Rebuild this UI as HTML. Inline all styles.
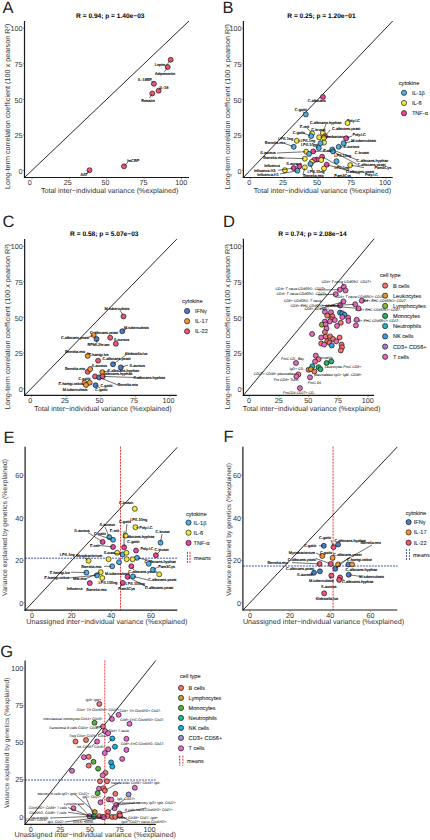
<!DOCTYPE html><html><head><meta charset="utf-8"><style>html,body{margin:0;padding:0;background:#fff;}svg{display:block;}text{font-family:'Liberation Sans', sans-serif;text-rendering:geometricPrecision;}</style></head><body>
<svg width="430" height="840" viewBox="0 0 430 840">
<rect x="0" y="0" width="430" height="840" fill="#fff"/>
<line x1="120.5" y1="446.7" x2="120.5" y2="610.2" stroke="#EE2B2B" stroke-width="0.95" stroke-dasharray="2,1"/>
<line x1="25.1" y1="558.2" x2="177.3" y2="558.2" stroke="#3B4CA8" stroke-width="0.95" stroke-dasharray="2,1"/>
<line x1="333.1" y1="446.7" x2="333.1" y2="610" stroke="#EE2B2B" stroke-width="0.95" stroke-dasharray="2,1"/>
<line x1="242.9" y1="566" x2="397.6" y2="566" stroke="#3B4CA8" stroke-width="0.95" stroke-dasharray="2,1"/>
<line x1="104.8" y1="660.5" x2="104.8" y2="824.4" stroke="#EE2B2B" stroke-width="0.95" stroke-dasharray="2,1"/>
<line x1="25.1" y1="780" x2="155.8" y2="780" stroke="#3B4CA8" stroke-width="0.95" stroke-dasharray="2,1"/>
<line x1="24.5" y1="21" x2="24.5" y2="178.1" stroke="#1a1a1a" stroke-width="1.2"/>
<line x1="23.9" y1="177.5" x2="189" y2="177.5" stroke="#1a1a1a" stroke-width="1.2"/>
<line x1="24.5" y1="177.5" x2="189" y2="21" stroke="#111" stroke-width="0.9"/>
<line x1="32" y1="178" x2="32" y2="179.3" stroke="#555" stroke-width="0.6"/>
<text x="29.8" y="185" font-size="7.2" text-anchor="middle" font-weight="normal" fill="#333333">0</text>
<line x1="69.38" y1="178" x2="69.38" y2="179.3" stroke="#555" stroke-width="0.6"/>
<text x="67.67" y="185" font-size="7.2" text-anchor="middle" font-weight="normal" fill="#333333">25</text>
<line x1="106.75" y1="178" x2="106.75" y2="179.3" stroke="#555" stroke-width="0.6"/>
<text x="105.55" y="185" font-size="7.2" text-anchor="middle" font-weight="normal" fill="#333333">50</text>
<line x1="144.12" y1="178" x2="144.12" y2="179.3" stroke="#555" stroke-width="0.6"/>
<text x="143.43" y="185" font-size="7.2" text-anchor="middle" font-weight="normal" fill="#333333">75</text>
<line x1="181.5" y1="178" x2="181.5" y2="179.3" stroke="#555" stroke-width="0.6"/>
<text x="181.3" y="185" font-size="7.2" text-anchor="middle" font-weight="normal" fill="#333333">100</text>
<line x1="22.7" y1="170.4" x2="24" y2="170.4" stroke="#555" stroke-width="0.6"/>
<text x="22.6" y="174.1" font-size="7.2" text-anchor="end" font-weight="normal" fill="#333333">0</text>
<line x1="22.7" y1="134.85" x2="24" y2="134.85" stroke="#555" stroke-width="0.6"/>
<text x="22.6" y="138.3" font-size="7.2" text-anchor="end" font-weight="normal" fill="#333333">25</text>
<line x1="22.7" y1="99.3" x2="24" y2="99.3" stroke="#555" stroke-width="0.6"/>
<text x="22.6" y="102.5" font-size="7.2" text-anchor="end" font-weight="normal" fill="#333333">50</text>
<line x1="22.7" y1="63.75" x2="24" y2="63.75" stroke="#555" stroke-width="0.6"/>
<text x="22.6" y="66.7" font-size="7.2" text-anchor="end" font-weight="normal" fill="#333333">75</text>
<line x1="22.7" y1="28.2" x2="24" y2="28.2" stroke="#555" stroke-width="0.6"/>
<text x="22.6" y="30.9" font-size="7.2" text-anchor="end" font-weight="normal" fill="#333333">100</text>
<line x1="243.4" y1="21" x2="243.4" y2="178.1" stroke="#1a1a1a" stroke-width="1.2"/>
<line x1="242.8" y1="177.5" x2="392.7" y2="177.5" stroke="#1a1a1a" stroke-width="1.2"/>
<line x1="243.4" y1="177.5" x2="392.7" y2="21" stroke="#111" stroke-width="0.9"/>
<line x1="250.2" y1="178" x2="250.2" y2="179.3" stroke="#555" stroke-width="0.6"/>
<text x="249.2" y="185" font-size="7.2" text-anchor="middle" font-weight="normal" fill="#333333">0</text>
<line x1="284.12" y1="178" x2="284.12" y2="179.3" stroke="#555" stroke-width="0.6"/>
<text x="283.12" y="185" font-size="7.2" text-anchor="middle" font-weight="normal" fill="#333333">25</text>
<line x1="318.05" y1="178" x2="318.05" y2="179.3" stroke="#555" stroke-width="0.6"/>
<text x="317.05" y="185" font-size="7.2" text-anchor="middle" font-weight="normal" fill="#333333">50</text>
<line x1="351.98" y1="178" x2="351.98" y2="179.3" stroke="#555" stroke-width="0.6"/>
<text x="350.98" y="185" font-size="7.2" text-anchor="middle" font-weight="normal" fill="#333333">75</text>
<line x1="385.9" y1="178" x2="385.9" y2="179.3" stroke="#555" stroke-width="0.6"/>
<text x="384.9" y="185" font-size="7.2" text-anchor="middle" font-weight="normal" fill="#333333">100</text>
<line x1="241.6" y1="170.4" x2="242.9" y2="170.4" stroke="#555" stroke-width="0.6"/>
<text x="241.5" y="174.1" font-size="7.2" text-anchor="end" font-weight="normal" fill="#333333">0</text>
<line x1="241.6" y1="134.85" x2="242.9" y2="134.85" stroke="#555" stroke-width="0.6"/>
<text x="241.5" y="138.3" font-size="7.2" text-anchor="end" font-weight="normal" fill="#333333">25</text>
<line x1="241.6" y1="99.3" x2="242.9" y2="99.3" stroke="#555" stroke-width="0.6"/>
<text x="241.5" y="102.5" font-size="7.2" text-anchor="end" font-weight="normal" fill="#333333">50</text>
<line x1="241.6" y1="63.75" x2="242.9" y2="63.75" stroke="#555" stroke-width="0.6"/>
<text x="241.5" y="66.7" font-size="7.2" text-anchor="end" font-weight="normal" fill="#333333">75</text>
<line x1="241.6" y1="28.2" x2="242.9" y2="28.2" stroke="#555" stroke-width="0.6"/>
<text x="241.5" y="30.9" font-size="7.2" text-anchor="end" font-weight="normal" fill="#333333">100</text>
<line x1="24.65" y1="239.1" x2="24.65" y2="395.9" stroke="#1a1a1a" stroke-width="1.2"/>
<line x1="24.05" y1="395.3" x2="176.8" y2="395.3" stroke="#1a1a1a" stroke-width="1.2"/>
<line x1="24.65" y1="395.3" x2="176.8" y2="239.1" stroke="#111" stroke-width="0.9"/>
<line x1="31.6" y1="395.8" x2="31.6" y2="397.1" stroke="#555" stroke-width="0.6"/>
<text x="30.3" y="402.8" font-size="7.2" text-anchor="middle" font-weight="normal" fill="#333333">0</text>
<line x1="66.18" y1="395.8" x2="66.18" y2="397.1" stroke="#555" stroke-width="0.6"/>
<text x="64.88" y="402.8" font-size="7.2" text-anchor="middle" font-weight="normal" fill="#333333">25</text>
<line x1="100.75" y1="395.8" x2="100.75" y2="397.1" stroke="#555" stroke-width="0.6"/>
<text x="99.45" y="402.8" font-size="7.2" text-anchor="middle" font-weight="normal" fill="#333333">50</text>
<line x1="135.32" y1="395.8" x2="135.32" y2="397.1" stroke="#555" stroke-width="0.6"/>
<text x="134.02" y="402.8" font-size="7.2" text-anchor="middle" font-weight="normal" fill="#333333">75</text>
<line x1="169.9" y1="395.8" x2="169.9" y2="397.1" stroke="#555" stroke-width="0.6"/>
<text x="168.6" y="402.8" font-size="7.2" text-anchor="middle" font-weight="normal" fill="#333333">100</text>
<line x1="22.85" y1="388.5" x2="24.15" y2="388.5" stroke="#555" stroke-width="0.6"/>
<text x="22.75" y="392.2" font-size="7.2" text-anchor="end" font-weight="normal" fill="#333333">0</text>
<line x1="22.85" y1="352.95" x2="24.15" y2="352.95" stroke="#555" stroke-width="0.6"/>
<text x="22.75" y="356.4" font-size="7.2" text-anchor="end" font-weight="normal" fill="#333333">25</text>
<line x1="22.85" y1="317.4" x2="24.15" y2="317.4" stroke="#555" stroke-width="0.6"/>
<text x="22.75" y="320.6" font-size="7.2" text-anchor="end" font-weight="normal" fill="#333333">50</text>
<line x1="22.85" y1="281.85" x2="24.15" y2="281.85" stroke="#555" stroke-width="0.6"/>
<text x="22.75" y="284.8" font-size="7.2" text-anchor="end" font-weight="normal" fill="#333333">75</text>
<line x1="22.85" y1="246.3" x2="24.15" y2="246.3" stroke="#555" stroke-width="0.6"/>
<text x="22.75" y="249" font-size="7.2" text-anchor="end" font-weight="normal" fill="#333333">100</text>
<line x1="243.4" y1="238.8" x2="243.4" y2="395.9" stroke="#1a1a1a" stroke-width="1.2"/>
<line x1="242.8" y1="395.3" x2="374.1" y2="395.3" stroke="#1a1a1a" stroke-width="1.2"/>
<line x1="243.4" y1="395.3" x2="374.1" y2="238.8" stroke="#111" stroke-width="0.9"/>
<line x1="249.3" y1="395.8" x2="249.3" y2="397.1" stroke="#555" stroke-width="0.6"/>
<text x="249" y="402.8" font-size="7.2" text-anchor="middle" font-weight="normal" fill="#333333">0</text>
<line x1="278.98" y1="395.8" x2="278.98" y2="397.1" stroke="#555" stroke-width="0.6"/>
<text x="278.68" y="402.8" font-size="7.2" text-anchor="middle" font-weight="normal" fill="#333333">25</text>
<line x1="308.65" y1="395.8" x2="308.65" y2="397.1" stroke="#555" stroke-width="0.6"/>
<text x="308.35" y="402.8" font-size="7.2" text-anchor="middle" font-weight="normal" fill="#333333">50</text>
<line x1="338.33" y1="395.8" x2="338.33" y2="397.1" stroke="#555" stroke-width="0.6"/>
<text x="338.03" y="402.8" font-size="7.2" text-anchor="middle" font-weight="normal" fill="#333333">75</text>
<line x1="368" y1="395.8" x2="368" y2="397.1" stroke="#555" stroke-width="0.6"/>
<text x="367.7" y="402.8" font-size="7.2" text-anchor="middle" font-weight="normal" fill="#333333">100</text>
<line x1="241.6" y1="388.5" x2="242.9" y2="388.5" stroke="#555" stroke-width="0.6"/>
<text x="241.5" y="392.2" font-size="7.2" text-anchor="end" font-weight="normal" fill="#333333">0</text>
<line x1="241.6" y1="352.95" x2="242.9" y2="352.95" stroke="#555" stroke-width="0.6"/>
<text x="241.5" y="356.4" font-size="7.2" text-anchor="end" font-weight="normal" fill="#333333">25</text>
<line x1="241.6" y1="317.4" x2="242.9" y2="317.4" stroke="#555" stroke-width="0.6"/>
<text x="241.5" y="320.6" font-size="7.2" text-anchor="end" font-weight="normal" fill="#333333">50</text>
<line x1="241.6" y1="281.85" x2="242.9" y2="281.85" stroke="#555" stroke-width="0.6"/>
<text x="241.5" y="284.8" font-size="7.2" text-anchor="end" font-weight="normal" fill="#333333">75</text>
<line x1="241.6" y1="246.3" x2="242.9" y2="246.3" stroke="#555" stroke-width="0.6"/>
<text x="241.5" y="249" font-size="7.2" text-anchor="end" font-weight="normal" fill="#333333">100</text>
<line x1="25.1" y1="446.7" x2="25.1" y2="610.8" stroke="#1a1a1a" stroke-width="1.2"/>
<line x1="24.5" y1="610.2" x2="177.3" y2="610.2" stroke="#1a1a1a" stroke-width="1.2"/>
<line x1="25.3" y1="610.2" x2="177.3" y2="447.3" stroke="#111" stroke-width="0.9"/>
<line x1="32" y1="610.7" x2="32" y2="612" stroke="#555" stroke-width="0.6"/>
<text x="32" y="617.7" font-size="7.2" text-anchor="middle" font-weight="normal" fill="#333333">0</text>
<line x1="71.63" y1="610.7" x2="71.63" y2="612" stroke="#555" stroke-width="0.6"/>
<text x="71.63" y="617.7" font-size="7.2" text-anchor="middle" font-weight="normal" fill="#333333">20</text>
<line x1="111.27" y1="610.7" x2="111.27" y2="612" stroke="#555" stroke-width="0.6"/>
<text x="111.27" y="617.7" font-size="7.2" text-anchor="middle" font-weight="normal" fill="#333333">40</text>
<line x1="150.9" y1="610.7" x2="150.9" y2="612" stroke="#555" stroke-width="0.6"/>
<text x="150.9" y="617.7" font-size="7.2" text-anchor="middle" font-weight="normal" fill="#333333">60</text>
<line x1="23.3" y1="602.9" x2="24.6" y2="602.9" stroke="#555" stroke-width="0.6"/>
<text x="23.2" y="605.8" font-size="7.2" text-anchor="end" font-weight="normal" fill="#333333">0</text>
<line x1="23.3" y1="560.33" x2="24.6" y2="560.33" stroke="#555" stroke-width="0.6"/>
<text x="23.2" y="563.23" font-size="7.2" text-anchor="end" font-weight="normal" fill="#333333">20</text>
<line x1="23.3" y1="517.77" x2="24.6" y2="517.77" stroke="#555" stroke-width="0.6"/>
<text x="23.2" y="520.67" font-size="7.2" text-anchor="end" font-weight="normal" fill="#333333">40</text>
<line x1="23.3" y1="475.2" x2="24.6" y2="475.2" stroke="#555" stroke-width="0.6"/>
<text x="23.2" y="478.1" font-size="7.2" text-anchor="end" font-weight="normal" fill="#333333">60</text>
<line x1="242.9" y1="446.7" x2="242.9" y2="610.6" stroke="#1a1a1a" stroke-width="1.2"/>
<line x1="242.3" y1="610" x2="397.3" y2="610" stroke="#1a1a1a" stroke-width="1.2"/>
<line x1="243.1" y1="610" x2="397.3" y2="446.9" stroke="#111" stroke-width="0.9"/>
<line x1="249.9" y1="610.5" x2="249.9" y2="611.8" stroke="#555" stroke-width="0.6"/>
<text x="249.9" y="617.5" font-size="7.2" text-anchor="middle" font-weight="normal" fill="#333333">0</text>
<line x1="290.1" y1="610.5" x2="290.1" y2="611.8" stroke="#555" stroke-width="0.6"/>
<text x="290.1" y="617.5" font-size="7.2" text-anchor="middle" font-weight="normal" fill="#333333">20</text>
<line x1="330.3" y1="610.5" x2="330.3" y2="611.8" stroke="#555" stroke-width="0.6"/>
<text x="330.3" y="617.5" font-size="7.2" text-anchor="middle" font-weight="normal" fill="#333333">40</text>
<line x1="370.5" y1="610.5" x2="370.5" y2="611.8" stroke="#555" stroke-width="0.6"/>
<text x="370.5" y="617.5" font-size="7.2" text-anchor="middle" font-weight="normal" fill="#333333">60</text>
<line x1="241.1" y1="602.9" x2="242.4" y2="602.9" stroke="#555" stroke-width="0.6"/>
<text x="241.1" y="605.8" font-size="7.2" text-anchor="end" font-weight="normal" fill="#333333">0</text>
<line x1="241.1" y1="560.33" x2="242.4" y2="560.33" stroke="#555" stroke-width="0.6"/>
<text x="241.1" y="563.23" font-size="7.2" text-anchor="end" font-weight="normal" fill="#333333">20</text>
<line x1="241.1" y1="517.77" x2="242.4" y2="517.77" stroke="#555" stroke-width="0.6"/>
<text x="241.1" y="520.67" font-size="7.2" text-anchor="end" font-weight="normal" fill="#333333">40</text>
<line x1="241.1" y1="475.2" x2="242.4" y2="475.2" stroke="#555" stroke-width="0.6"/>
<text x="241.1" y="478.1" font-size="7.2" text-anchor="end" font-weight="normal" fill="#333333">60</text>
<line x1="25.1" y1="660.5" x2="25.1" y2="825" stroke="#1a1a1a" stroke-width="1.2"/>
<line x1="24.5" y1="824.4" x2="155.8" y2="824.4" stroke="#1a1a1a" stroke-width="1.2"/>
<line x1="25.1" y1="824.4" x2="155.8" y2="660.5" stroke="#111" stroke-width="0.9"/>
<line x1="31.05" y1="824.9" x2="31.05" y2="826.2" stroke="#555" stroke-width="0.6"/>
<text x="30.65" y="831.9" font-size="7.2" text-anchor="middle" font-weight="normal" fill="#333333">0</text>
<line x1="60.76" y1="824.9" x2="60.76" y2="826.2" stroke="#555" stroke-width="0.6"/>
<text x="60.36" y="831.9" font-size="7.2" text-anchor="middle" font-weight="normal" fill="#333333">25</text>
<line x1="90.47" y1="824.9" x2="90.47" y2="826.2" stroke="#555" stroke-width="0.6"/>
<text x="90.07" y="831.9" font-size="7.2" text-anchor="middle" font-weight="normal" fill="#333333">50</text>
<line x1="120.19" y1="824.9" x2="120.19" y2="826.2" stroke="#555" stroke-width="0.6"/>
<text x="119.79" y="831.9" font-size="7.2" text-anchor="middle" font-weight="normal" fill="#333333">75</text>
<line x1="149.9" y1="824.9" x2="149.9" y2="826.2" stroke="#555" stroke-width="0.6"/>
<text x="149.5" y="831.9" font-size="7.2" text-anchor="middle" font-weight="normal" fill="#333333">100</text>
<line x1="23.3" y1="817" x2="24.6" y2="817" stroke="#555" stroke-width="0.6"/>
<text x="23.2" y="819.7" font-size="7.2" text-anchor="end" font-weight="normal" fill="#333333">0</text>
<line x1="23.3" y1="779.75" x2="24.6" y2="779.75" stroke="#555" stroke-width="0.6"/>
<text x="23.2" y="782.45" font-size="7.2" text-anchor="end" font-weight="normal" fill="#333333">25</text>
<line x1="23.3" y1="742.5" x2="24.6" y2="742.5" stroke="#555" stroke-width="0.6"/>
<text x="23.2" y="745.2" font-size="7.2" text-anchor="end" font-weight="normal" fill="#333333">50</text>
<line x1="23.3" y1="705.25" x2="24.6" y2="705.25" stroke="#555" stroke-width="0.6"/>
<text x="23.2" y="707.95" font-size="7.2" text-anchor="end" font-weight="normal" fill="#333333">75</text>
<line x1="23.3" y1="668" x2="24.6" y2="668" stroke="#555" stroke-width="0.6"/>
<text x="23.2" y="670.7" font-size="7.2" text-anchor="end" font-weight="normal" fill="#333333">100</text>
<text x="2.6" y="12.8" font-size="16.5" text-anchor="start" font-weight="normal" fill="#222">A</text>
<text x="222.6" y="12.9" font-size="16.5" text-anchor="start" font-weight="normal" fill="#222">B</text>
<text x="2.6" y="226.6" font-size="16.5" text-anchor="start" font-weight="normal" fill="#222">C</text>
<text x="223" y="226.8" font-size="16.5" text-anchor="start" font-weight="normal" fill="#222">D</text>
<text x="3.6" y="442.8" font-size="16.5" text-anchor="start" font-weight="normal" fill="#222">E</text>
<text x="223.4" y="442.4" font-size="16.5" text-anchor="start" font-weight="normal" fill="#222">F</text>
<text x="0.3" y="656.6" font-size="16.5" text-anchor="start" font-weight="normal" fill="#222">G</text>
<text x="110.3" y="18.2" font-size="6.6" text-anchor="middle" font-weight="bold" fill="#000">R = 0.94; p = 1.40e−03</text>
<text x="321.5" y="18.2" font-size="6.6" text-anchor="middle" font-weight="bold" fill="#000">R = 0.25; p = 1.20e−01</text>
<text x="104.3" y="236.2" font-size="6.6" text-anchor="middle" font-weight="bold" fill="#000">R = 0.58; p = 5.07e−03</text>
<text x="312.5" y="236.2" font-size="6.6" text-anchor="middle" font-weight="bold" fill="#000">R = 0.74; p = 2.08e−14</text>
<text x="109.65" y="193.4" font-size="7.15" text-anchor="middle" font-weight="normal" fill="#333">Total inter−individual variance (%explained)</text>
<text x="322.4" y="193.4" font-size="7.15" text-anchor="middle" font-weight="normal" fill="#333">Total inter−individual variance (%explained)</text>
<text x="102.9" y="410.6" font-size="7.15" text-anchor="middle" font-weight="normal" fill="#333">Total inter−individual variance (%explained)</text>
<text x="311.6" y="410.6" font-size="7.15" text-anchor="middle" font-weight="normal" fill="#333">Total inter−individual variance (%explained)</text>
<text x="10.2" y="106.3" font-size="7.22" text-anchor="middle" font-weight="normal" fill="#333" transform="rotate(-90 10.2 106.3)">Long-term correlation coefficient (100 x pearson R²)</text>
<text x="230.3" y="106.6" font-size="7.22" text-anchor="middle" font-weight="normal" fill="#333" transform="rotate(-90 230.3 106.6)">Long-term correlation coefficient (100 x pearson R²)</text>
<text x="10.2" y="326.6" font-size="7.22" text-anchor="middle" font-weight="normal" fill="#333" transform="rotate(-90 10.2 326.6)">Long-term correlation coefficient (100 x pearson R²)</text>
<text x="230.3" y="326.6" font-size="7.22" text-anchor="middle" font-weight="normal" fill="#333" transform="rotate(-90 230.3 326.6)">Long-term correlation coefficient (100 x pearson R²)</text>
<text x="106.9" y="623.8" font-size="7.2" text-anchor="middle" font-weight="normal" fill="#333">Unassigned inter−individual variance (%explained)</text>
<text x="323.5" y="623.8" font-size="7.2" text-anchor="middle" font-weight="normal" fill="#333">Unassigned inter−individual variance (%explained)</text>
<text x="7.1" y="527.4" font-size="6.9" text-anchor="middle" font-weight="normal" fill="#333" transform="rotate(-90 7.1 527.4)">Variance explained by genetics (%explained)</text>
<text x="231.3" y="529.5" font-size="6.7" text-anchor="middle" font-weight="normal" fill="#333" transform="rotate(-90 231.3 529.5)">Variance explained by genetics (%explained)</text>
<text x="95.2" y="837.2" font-size="7.2" text-anchor="middle" font-weight="normal" fill="#333">Unassigned inter−individual variance (%explained)</text>
<text x="8.8" y="742.8" font-size="6.55" text-anchor="middle" font-weight="normal" fill="#333" transform="rotate(-90 8.8 742.8)">Variance explained by genetics (%explained)</text>
<text x="160" y="66.3" font-size="3.85" text-anchor="middle" font-weight="normal" fill="#000" stroke="#000" stroke-width="0.15">Leptin</text>
<text x="165" y="75.2" font-size="3.85" text-anchor="middle" font-weight="normal" fill="#000" stroke="#000" stroke-width="0.15">Adiponectin</text>
<text x="145" y="80.7" font-size="3.85" text-anchor="middle" font-weight="normal" fill="#000" stroke="#000" stroke-width="0.15">IL-18BP</text>
<text x="164" y="88.7" font-size="3.85" text-anchor="middle" font-weight="normal" fill="#000" stroke="#000" stroke-width="0.15">IL-18</text>
<text x="148" y="101.8" font-size="3.85" text-anchor="middle" font-weight="normal" fill="#000" stroke="#000" stroke-width="0.15">Resistin</text>
<text x="84" y="175.7" font-size="3.85" text-anchor="middle" font-weight="normal" fill="#000" stroke="#000" stroke-width="0.15">AAT</text>
<text x="133.3" y="161.8" font-size="3.85" text-anchor="middle" font-weight="normal" fill="#000" stroke="#000" stroke-width="0.15">hsCRP</text>
<circle cx="170.7" cy="59.8" r="2.5" fill="#F0566E" stroke="#000" stroke-width="0.6"/>
<circle cx="167.7" cy="67" r="2.5" fill="#F0566E" stroke="#000" stroke-width="0.6"/>
<circle cx="153.9" cy="83.75" r="2.5" fill="#F0566E" stroke="#000" stroke-width="0.6"/>
<circle cx="158.6" cy="90.7" r="2.5" fill="#F0566E" stroke="#000" stroke-width="0.6"/>
<circle cx="152.3" cy="93.5" r="2.5" fill="#F0566E" stroke="#000" stroke-width="0.6"/>
<circle cx="89.5" cy="170.2" r="2.5" fill="#F0566E" stroke="#000" stroke-width="0.6"/>
<circle cx="124" cy="166.3" r="2.5" fill="#F0566E" stroke="#000" stroke-width="0.6"/>
<line x1="170.09" y1="60.59" x2="165.5" y2="66.5" stroke="#111" stroke-width="0.6"/>
<line x1="167.15" y1="67.83" x2="164.5" y2="71.8" stroke="#111" stroke-width="0.6"/>
<line x1="153.23" y1="83" x2="151" y2="80.5" stroke="#111" stroke-width="0.6"/>
<line x1="159.25" y1="89.94" x2="160.5" y2="88.5" stroke="#111" stroke-width="0.6"/>
<line x1="151.77" y1="94.35" x2="149.5" y2="98" stroke="#111" stroke-width="0.6"/>
<line x1="88.9" y1="171" x2="87" y2="173.5" stroke="#111" stroke-width="0.6"/>
<line x1="124.68" y1="165.57" x2="128" y2="162" stroke="#111" stroke-width="0.6"/>
<text x="316.7" y="101.5" font-size="3.85" text-anchor="middle" font-weight="normal" fill="#000" stroke="#000" stroke-width="0.15">C.albicans</text>
<text x="300.8" y="111.3" font-size="3.85" text-anchor="middle" font-weight="normal" fill="#000" stroke="#000" stroke-width="0.15">C.gattii</text>
<text x="353.5" y="122" font-size="3.85" text-anchor="middle" font-weight="normal" fill="#000" stroke="#000" stroke-width="0.15">Poly.I.C</text>
<text x="325.7" y="123.6" font-size="3.85" text-anchor="middle" font-weight="normal" fill="#000" stroke="#000" stroke-width="0.15">C.albicans.hyphae</text>
<text x="304.5" y="128" font-size="3.85" text-anchor="middle" font-weight="normal" fill="#000" stroke="#000" stroke-width="0.15">E.coli</text>
<text x="298.8" y="133.9" font-size="3.85" text-anchor="middle" font-weight="normal" fill="#000" stroke="#000" stroke-width="0.15">C.gattii</text>
<text x="318.4" y="131" font-size="3.85" text-anchor="middle" font-weight="normal" fill="#000" stroke="#000" stroke-width="0.15">C.krusei</text>
<text x="346.2" y="130.1" font-size="3.85" text-anchor="middle" font-weight="normal" fill="#000" stroke="#000" stroke-width="0.15">C.albicans.yeast</text>
<text x="335.5" y="137.5" font-size="3.85" text-anchor="middle" font-weight="normal" fill="#000" stroke="#000" stroke-width="0.15">Mycobacterium</text>
<text x="359.2" y="136.2" font-size="3.85" text-anchor="middle" font-weight="normal" fill="#000" stroke="#000" stroke-width="0.15">Poly.I.C</text>
<text x="363.6" y="141.9" font-size="3.85" text-anchor="middle" font-weight="normal" fill="#000" stroke="#000" stroke-width="0.15">M.tuberculosis</text>
<text x="285.7" y="139.9" font-size="3.85" text-anchor="middle" font-weight="normal" fill="#000" stroke="#000" stroke-width="0.15">LPS.1ng</text>
<text x="307.8" y="142" font-size="3.85" text-anchor="middle" font-weight="normal" fill="#000" stroke="#000" stroke-width="0.15">LPS.1ng</text>
<text x="309.4" y="146.4" font-size="3.85" text-anchor="middle" font-weight="normal" fill="#000" stroke="#000" stroke-width="0.15">LPS.10ng</text>
<text x="275" y="144.3" font-size="3.85" text-anchor="middle" font-weight="normal" fill="#000" stroke="#000" stroke-width="0.15">Borrelia.mix</text>
<text x="351.4" y="148.2" font-size="3.85" text-anchor="middle" font-weight="normal" fill="#000" stroke="#000" stroke-width="0.15">S.aureus</text>
<text x="361.9" y="153.8" font-size="3.85" text-anchor="middle" font-weight="normal" fill="#000" stroke="#000" stroke-width="0.15">C.krusei</text>
<text x="328" y="151.8" font-size="3.85" text-anchor="middle" font-weight="normal" fill="#000" stroke="#000" stroke-width="0.15">E.coli</text>
<text x="342.7" y="157.3" font-size="3.85" text-anchor="middle" font-weight="normal" fill="#000" stroke="#000" stroke-width="0.15">LPS.10ng</text>
<text x="268" y="153.6" font-size="3.85" text-anchor="middle" font-weight="normal" fill="#000" stroke="#000" stroke-width="0.15">S.aureus</text>
<text x="273.5" y="159" font-size="3.85" text-anchor="middle" font-weight="normal" fill="#000" stroke="#000" stroke-width="0.15">Borrelia.mix</text>
<text x="294" y="165" font-size="3.85" text-anchor="middle" font-weight="normal" fill="#000" stroke="#000" stroke-width="0.15">S.aureus</text>
<text x="272" y="166.7" font-size="3.85" text-anchor="middle" font-weight="normal" fill="#000" stroke="#000" stroke-width="0.15">Influenza</text>
<text x="264.7" y="171.5" font-size="3.85" text-anchor="middle" font-weight="normal" fill="#000" stroke="#000" stroke-width="0.15">Influenza.H3</text>
<text x="268" y="175.6" font-size="3.85" text-anchor="middle" font-weight="normal" fill="#000" stroke="#000" stroke-width="0.15">Influenza.H1</text>
<text x="372.4" y="162.1" font-size="3.85" text-anchor="middle" font-weight="normal" fill="#000" stroke="#000" stroke-width="0.15">C.albicans.hyphae</text>
<text x="371.5" y="166" font-size="3.85" text-anchor="middle" font-weight="normal" fill="#000" stroke="#000" stroke-width="0.15">C.albicans.yeast</text>
<text x="382.8" y="169.1" font-size="3.85" text-anchor="middle" font-weight="normal" fill="#000" stroke="#000" stroke-width="0.15">Pam3Cys</text>
<text x="360.1" y="172.9" font-size="3.85" text-anchor="middle" font-weight="normal" fill="#000" stroke="#000" stroke-width="0.15">C.albicans.yeast</text>
<text x="371.5" y="175.6" font-size="3.85" text-anchor="middle" font-weight="normal" fill="#000" stroke="#000" stroke-width="0.15">Poly.I.C</text>
<text x="341.8" y="168.6" font-size="3.85" text-anchor="middle" font-weight="normal" fill="#000" stroke="#000" stroke-width="0.15">LPS.1ng</text>
<text x="342.7" y="176.8" font-size="3.85" text-anchor="middle" font-weight="normal" fill="#000" stroke="#000" stroke-width="0.15">Pam3Cys</text>
<text x="316" y="172.8" font-size="3.85" text-anchor="middle" font-weight="normal" fill="#000" stroke="#000" stroke-width="0.15">LPS.10ng</text>
<text x="313.5" y="177.1" font-size="3.85" text-anchor="middle" font-weight="normal" fill="#000" stroke="#000" stroke-width="0.15">Borrelia.mix</text>
<circle cx="322.9" cy="96.9" r="2.5" fill="#E8479A" stroke="#000" stroke-width="0.6"/>
<circle cx="305.8" cy="114.4" r="2.5" fill="#4FB0E6" stroke="#000" stroke-width="0.6"/>
<circle cx="347.5" cy="123" r="2.5" fill="#F2E640" stroke="#000" stroke-width="0.6"/>
<circle cx="312.1" cy="133.4" r="2.5" fill="#F2E640" stroke="#000" stroke-width="0.6"/>
<circle cx="311.1" cy="136.1" r="2.5" fill="#4FB0E6" stroke="#000" stroke-width="0.6"/>
<circle cx="322.8" cy="132.9" r="2.5" fill="#F2E640" stroke="#000" stroke-width="0.6"/>
<circle cx="325" cy="136.2" r="2.5" fill="#E8479A" stroke="#000" stroke-width="0.6"/>
<circle cx="319.2" cy="137.3" r="2.5" fill="#F2E640" stroke="#000" stroke-width="0.6"/>
<circle cx="323.8" cy="137.8" r="2.5" fill="#F2E640" stroke="#000" stroke-width="0.6"/>
<circle cx="324" cy="142.6" r="2.5" fill="#F2E640" stroke="#000" stroke-width="0.6"/>
<circle cx="320.5" cy="143.2" r="2.5" fill="#4FB0E6" stroke="#000" stroke-width="0.6"/>
<circle cx="346.1" cy="138.3" r="2.5" fill="#E8479A" stroke="#000" stroke-width="0.6"/>
<circle cx="343.7" cy="143.2" r="2.5" fill="#4FB0E6" stroke="#000" stroke-width="0.6"/>
<circle cx="296.8" cy="140.8" r="2.5" fill="#F2E640" stroke="#000" stroke-width="0.6"/>
<circle cx="293.7" cy="146.8" r="2.5" fill="#4FB0E6" stroke="#000" stroke-width="0.6"/>
<circle cx="318.8" cy="148" r="2.5" fill="#4FB0E6" stroke="#000" stroke-width="0.6"/>
<circle cx="338.7" cy="146.8" r="2.5" fill="#4FB0E6" stroke="#000" stroke-width="0.6"/>
<circle cx="332.3" cy="149.5" r="2.5" fill="#4FB0E6" stroke="#000" stroke-width="0.6"/>
<circle cx="333" cy="151.4" r="2.5" fill="#4FB0E6" stroke="#000" stroke-width="0.6"/>
<circle cx="306.2" cy="151.7" r="2.5" fill="#F2E640" stroke="#000" stroke-width="0.6"/>
<circle cx="313.2" cy="151.4" r="2.5" fill="#E8479A" stroke="#000" stroke-width="0.6"/>
<circle cx="309" cy="153.9" r="2.5" fill="#4FB0E6" stroke="#000" stroke-width="0.6"/>
<circle cx="304.8" cy="158.7" r="2.5" fill="#F2E640" stroke="#000" stroke-width="0.6"/>
<circle cx="322.1" cy="156.7" r="2.5" fill="#E8479A" stroke="#000" stroke-width="0.6"/>
<circle cx="317" cy="159.5" r="2.5" fill="#E8479A" stroke="#000" stroke-width="0.6"/>
<circle cx="314.2" cy="160" r="2.5" fill="#E8479A" stroke="#000" stroke-width="0.6"/>
<circle cx="321.2" cy="160" r="2.5" fill="#F2E640" stroke="#000" stroke-width="0.6"/>
<circle cx="311.8" cy="161.9" r="2.5" fill="#F2E640" stroke="#000" stroke-width="0.6"/>
<circle cx="310.4" cy="164" r="2.5" fill="#4FB0E6" stroke="#000" stroke-width="0.6"/>
<circle cx="336.5" cy="161.2" r="2.5" fill="#4FB0E6" stroke="#000" stroke-width="0.6"/>
<circle cx="350.2" cy="165.1" r="2.5" fill="#F2E640" stroke="#000" stroke-width="0.6"/>
<circle cx="326.7" cy="164.7" r="2.5" fill="#E8479A" stroke="#000" stroke-width="0.6"/>
<circle cx="324" cy="168.4" r="2.5" fill="#F2E640" stroke="#000" stroke-width="0.6"/>
<circle cx="299.3" cy="166.5" r="2.5" fill="#E8479A" stroke="#000" stroke-width="0.6"/>
<circle cx="304.8" cy="167.4" r="2.5" fill="#F2E640" stroke="#000" stroke-width="0.6"/>
<circle cx="293.7" cy="168.1" r="2.5" fill="#E8479A" stroke="#000" stroke-width="0.6"/>
<circle cx="297.4" cy="170.7" r="2.5" fill="#4FB0E6" stroke="#000" stroke-width="0.6"/>
<circle cx="284.9" cy="170.2" r="2.5" fill="#F2E640" stroke="#000" stroke-width="0.6"/>
<line x1="305.11" y1="113.68" x2="303" y2="111.5" stroke="#111" stroke-width="0.6"/>
<line x1="311.41" y1="132.67" x2="307" y2="128" stroke="#111" stroke-width="0.6"/>
<line x1="310.17" y1="135.74" x2="303" y2="133" stroke="#111" stroke-width="0.6"/>
<line x1="323.14" y1="131.96" x2="326" y2="124" stroke="#111" stroke-width="0.6"/>
<line x1="325.63" y1="135.42" x2="330" y2="130" stroke="#111" stroke-width="0.6"/>
<line x1="347.03" y1="137.94" x2="352" y2="136" stroke="#111" stroke-width="0.6"/>
<line x1="344.68" y1="142.99" x2="354" y2="141" stroke="#111" stroke-width="0.6"/>
<line x1="297.8" y1="140.86" x2="300" y2="141" stroke="#111" stroke-width="0.6"/>
<line x1="292.77" y1="146.45" x2="285" y2="143.5" stroke="#111" stroke-width="0.6"/>
<line x1="317.85" y1="147.67" x2="313" y2="146" stroke="#111" stroke-width="0.6"/>
<line x1="339.7" y1="146.82" x2="345" y2="146.9" stroke="#111" stroke-width="0.6"/>
<line x1="333.22" y1="149.89" x2="357" y2="160" stroke="#111" stroke-width="0.6"/>
<line x1="333.88" y1="151.87" x2="357" y2="164.3" stroke="#111" stroke-width="0.6"/>
<line x1="305.2" y1="151.74" x2="277" y2="153" stroke="#111" stroke-width="0.6"/>
<line x1="303.8" y1="158.67" x2="284" y2="158" stroke="#111" stroke-width="0.6"/>
<line x1="298.5" y1="165.9" x2="296" y2="164" stroke="#111" stroke-width="0.6"/>
<line x1="292.71" y1="168.24" x2="278" y2="170.3" stroke="#111" stroke-width="0.6"/>
<line x1="296.42" y1="170.89" x2="280" y2="174" stroke="#111" stroke-width="0.6"/>
<line x1="351.18" y1="165.28" x2="364" y2="167.6" stroke="#111" stroke-width="0.6"/>
<line x1="322.98" y1="157.18" x2="349" y2="171.3" stroke="#111" stroke-width="0.6"/>
<line x1="327.66" y1="164.97" x2="360" y2="174" stroke="#111" stroke-width="0.6"/>
<line x1="314.2" y1="151.38" x2="333" y2="151" stroke="#111" stroke-width="0.6"/>
<line x1="304.57" y1="168.37" x2="303" y2="175" stroke="#111" stroke-width="0.6"/>
<line x1="310.74" y1="164.94" x2="314" y2="174" stroke="#111" stroke-width="0.6"/>
<line x1="320.2" y1="137.23" x2="330" y2="136.5" stroke="#111" stroke-width="0.6"/>
<text x="117" y="309.7" font-size="3.85" text-anchor="middle" font-weight="normal" fill="#000" stroke="#000" stroke-width="0.15">M.tuberculosis</text>
<text x="136.3" y="329.1" font-size="3.85" text-anchor="middle" font-weight="normal" fill="#000" stroke="#000" stroke-width="0.15">M.tuberculosis</text>
<text x="75.1" y="339.1" font-size="3.85" text-anchor="middle" font-weight="normal" fill="#000" stroke="#000" stroke-width="0.15">C.albicans.yeast</text>
<text x="104" y="333.9" font-size="3.85" text-anchor="middle" font-weight="normal" fill="#000" stroke="#000" stroke-width="0.15">C.albicans.yeast</text>
<text x="121.4" y="340.8" font-size="3.85" text-anchor="middle" font-weight="normal" fill="#000" stroke="#000" stroke-width="0.15">S.aureus</text>
<text x="98.4" y="346" font-size="3.85" text-anchor="middle" font-weight="normal" fill="#000" stroke="#000" stroke-width="0.15">RPMI.2hr.wo</text>
<text x="75.1" y="352.6" font-size="3.85" text-anchor="middle" font-weight="normal" fill="#000" stroke="#000" stroke-width="0.15">Borrelia.mix</text>
<text x="98.5" y="356.3" font-size="3.85" text-anchor="middle" font-weight="normal" fill="#000" stroke="#000" stroke-width="0.15">E.hantgi.lve</text>
<text x="116.5" y="359.9" font-size="3.85" text-anchor="middle" font-weight="normal" fill="#000" stroke="#000" stroke-width="0.15">C.albicans.yeast</text>
<text x="136.3" y="354.8" font-size="3.85" text-anchor="middle" font-weight="normal" fill="#000" stroke="#000" stroke-width="0.15">Klebsiella.lve</text>
<text x="137.2" y="366.5" font-size="3.85" text-anchor="middle" font-weight="normal" fill="#000" stroke="#000" stroke-width="0.15">S.aureus</text>
<text x="75.1" y="370.3" font-size="3.85" text-anchor="middle" font-weight="normal" fill="#000" stroke="#000" stroke-width="0.15">Borrelia.mix</text>
<text x="99.2" y="367.3" font-size="3.85" text-anchor="middle" font-weight="normal" fill="#000" stroke="#000" stroke-width="0.15">S.aureus</text>
<text x="123.3" y="371.9" font-size="3.85" text-anchor="middle" font-weight="normal" fill="#000" stroke="#000" stroke-width="0.15">C.albicans.hyphae</text>
<text x="116.7" y="374.9" font-size="3.85" text-anchor="middle" font-weight="normal" fill="#000" stroke="#000" stroke-width="0.15">C.albicans.hyphae</text>
<text x="149.3" y="379" font-size="3.85" text-anchor="middle" font-weight="normal" fill="#000" stroke="#000" stroke-width="0.15">C.albicans.hyphae</text>
<text x="84.5" y="379.8" font-size="3.85" text-anchor="middle" font-weight="normal" fill="#000" stroke="#000" stroke-width="0.15">C.gattii</text>
<text x="71" y="384.6" font-size="3.85" text-anchor="middle" font-weight="normal" fill="#000" stroke="#000" stroke-width="0.15">E.hantgi.colice</text>
<text x="106.5" y="386.5" font-size="3.85" text-anchor="middle" font-weight="normal" fill="#000" stroke="#000" stroke-width="0.15">C.gattii</text>
<text x="127.9" y="386" font-size="3.85" text-anchor="middle" font-weight="normal" fill="#000" stroke="#000" stroke-width="0.15">Borrelia.mix</text>
<text x="75.1" y="390.7" font-size="3.85" text-anchor="middle" font-weight="normal" fill="#000" stroke="#000" stroke-width="0.15">M.tuberculosis</text>
<text x="101.3" y="391.3" font-size="3.85" text-anchor="middle" font-weight="normal" fill="#000" stroke="#000" stroke-width="0.15">C.gattii</text>
<circle cx="123.5" cy="316.4" r="2.5" fill="#EA5A78" stroke="#000" stroke-width="0.6"/>
<circle cx="122.3" cy="331.2" r="2.5" fill="#4A7DC9" stroke="#000" stroke-width="0.6"/>
<circle cx="93.7" cy="335" r="2.5" fill="#F0973A" stroke="#000" stroke-width="0.6"/>
<circle cx="96.5" cy="339" r="2.5" fill="#4A7DC9" stroke="#000" stroke-width="0.6"/>
<circle cx="110.2" cy="337.7" r="2.5" fill="#EA5A78" stroke="#000" stroke-width="0.6"/>
<circle cx="115.8" cy="343.8" r="2.5" fill="#EA5A78" stroke="#000" stroke-width="0.6"/>
<circle cx="87.7" cy="355.9" r="2.5" fill="#F0973A" stroke="#000" stroke-width="0.6"/>
<circle cx="98.1" cy="360.7" r="2.5" fill="#EA5A78" stroke="#000" stroke-width="0.6"/>
<circle cx="113" cy="364.3" r="2.5" fill="#4A7DC9" stroke="#000" stroke-width="0.6"/>
<circle cx="120.8" cy="367.4" r="2.5" fill="#4A7DC9" stroke="#000" stroke-width="0.6"/>
<circle cx="87.7" cy="371.8" r="2.5" fill="#EA5A78" stroke="#000" stroke-width="0.6"/>
<circle cx="90.2" cy="369.1" r="2.5" fill="#F0973A" stroke="#000" stroke-width="0.6"/>
<circle cx="102.3" cy="372.2" r="2.5" fill="#F0973A" stroke="#000" stroke-width="0.6"/>
<circle cx="95" cy="376.4" r="2.5" fill="#EA5A78" stroke="#000" stroke-width="0.6"/>
<circle cx="99.2" cy="377.4" r="2.5" fill="#4A7DC9" stroke="#000" stroke-width="0.6"/>
<circle cx="102.7" cy="376.4" r="2.5" fill="#EA5A78" stroke="#000" stroke-width="0.6"/>
<circle cx="84.5" cy="382.7" r="2.5" fill="#F0973A" stroke="#000" stroke-width="0.6"/>
<circle cx="89.7" cy="382.7" r="2.5" fill="#F0973A" stroke="#000" stroke-width="0.6"/>
<circle cx="86" cy="385" r="2.5" fill="#F0973A" stroke="#000" stroke-width="0.6"/>
<circle cx="95.6" cy="385.2" r="2.5" fill="#4A7DC9" stroke="#000" stroke-width="0.6"/>
<line x1="123.02" y1="315.52" x2="120" y2="310" stroke="#111" stroke-width="0.6"/>
<line x1="123.17" y1="330.7" x2="127" y2="328.5" stroke="#111" stroke-width="0.6"/>
<line x1="92.78" y1="335.39" x2="89" y2="337" stroke="#111" stroke-width="0.6"/>
<line x1="96.62" y1="339.99" x2="97" y2="343" stroke="#111" stroke-width="0.6"/>
<line x1="113.81" y1="363.72" x2="128" y2="353.5" stroke="#111" stroke-width="0.6"/>
<line x1="121.75" y1="367.08" x2="128" y2="365" stroke="#111" stroke-width="0.6"/>
<line x1="103.7" y1="376.43" x2="140" y2="377.7" stroke="#111" stroke-width="0.6"/>
<line x1="100.13" y1="377.77" x2="118" y2="385" stroke="#111" stroke-width="0.6"/>
<line x1="96.44" y1="385.74" x2="100" y2="388" stroke="#111" stroke-width="0.6"/>
<line x1="103.28" y1="372" x2="110" y2="370.6" stroke="#111" stroke-width="0.6"/>
<line x1="87.78" y1="354.9" x2="88" y2="352" stroke="#111" stroke-width="0.6"/>
<text x="346.3" y="283.1" font-size="3.5" text-anchor="middle" font-weight="normal" fill="#222" stroke="#222" stroke-width="0.05" font-style="italic">CD4+ T naive CD45RO- CD27+</text>
<text x="300.5" y="290.1" font-size="3.5" text-anchor="middle" font-weight="normal" fill="#222" stroke="#222" stroke-width="0.05" font-style="italic">CD4+ T naive CD45RO- CD27+</text>
<text x="301.5" y="294.7" font-size="3.5" text-anchor="middle" font-weight="normal" fill="#222" stroke="#222" stroke-width="0.05" font-style="italic">CD4+ T naive CD45RO- CD27+</text>
<text x="302.6" y="302.3" font-size="3.5" text-anchor="middle" font-weight="normal" fill="#222" stroke="#222" stroke-width="0.05" font-style="italic">CD8+ CD45RO- T naive</text>
<text x="313" y="306.9" font-size="3.5" text-anchor="middle" font-weight="normal" fill="#222" stroke="#222" stroke-width="0.05" font-style="italic">CD8+ EHC CD45RO- CD27-</text>
<text x="317.2" y="310" font-size="3.5" text-anchor="middle" font-weight="normal" fill="#222" stroke="#222" stroke-width="0.05" font-style="italic">CD8+ CD45RO-</text>
<text x="360.5" y="297.6" font-size="3.5" text-anchor="middle" font-weight="normal" fill="#222" stroke="#222" stroke-width="0.05" font-style="italic">CD4+ T naive CD45RO+ CD27+</text>
<text x="384" y="301.9" font-size="3.5" text-anchor="middle" font-weight="normal" fill="#222" stroke="#222" stroke-width="0.05" font-style="italic">CD8+ EHC CD45RO+ CD27-</text>
<text x="378" y="311.3" font-size="3.5" text-anchor="middle" font-weight="normal" fill="#222" stroke="#222" stroke-width="0.05" font-style="italic">CD8+ EHC CD45RO+ CD27-</text>
<text x="376.4" y="321.9" font-size="3.5" text-anchor="middle" font-weight="normal" fill="#222" stroke="#222" stroke-width="0.05" font-style="italic">CD8+ EHC CD45RO+ CD27-</text>
<text x="292.6" y="359.9" font-size="3.5" text-anchor="middle" font-weight="normal" fill="#222" stroke="#222" stroke-width="0.05" font-style="italic">ProC CD.. Bay</text>
<text x="297.2" y="370.1" font-size="3.5" text-anchor="middle" font-weight="normal" fill="#222" stroke="#222" stroke-width="0.05" font-style="italic">IgD+ CD..</text>
<text x="275" y="374.8" font-size="3.5" text-anchor="middle" font-weight="normal" fill="#222" stroke="#222" stroke-width="0.05" font-style="italic">CD27+ CD38+ plasmablast</text>
<text x="286" y="381.3" font-size="3.5" text-anchor="middle" font-weight="normal" fill="#222" stroke="#222" stroke-width="0.05" font-style="italic">Pro CD8+ Tscm</text>
<text x="314.4" y="384.1" font-size="3.5" text-anchor="middle" font-weight="normal" fill="#222" stroke="#222" stroke-width="0.05" font-style="italic">ProC D6</text>
<text x="299.3" y="393.7" font-size="3.5" text-anchor="middle" font-weight="normal" fill="#222" stroke="#222" stroke-width="0.05" font-style="italic">ProCD4 CD27+ CD..</text>
<text x="324" y="359.2" font-size="3.5" text-anchor="middle" font-weight="normal" fill="#222" stroke="#222" stroke-width="0.05" font-style="italic">Neutrophils</text>
<text x="343" y="368.2" font-size="3.5" text-anchor="middle" font-weight="normal" fill="#222" stroke="#222" stroke-width="0.05" font-style="italic">Leukocytes ProC CD8+</text>
<text x="338" y="376" font-size="3.5" text-anchor="middle" font-weight="normal" fill="#222" stroke="#222" stroke-width="0.05" font-style="italic">plasmablast IgG+ IgM- CD38+</text>
<circle cx="343.8" cy="286.7" r="2.5" fill="#E26BBA" stroke="#000" stroke-width="0.6"/>
<circle cx="339.8" cy="289.7" r="2.5" fill="#E26BBA" stroke="#000" stroke-width="0.6"/>
<circle cx="345.5" cy="290.5" r="2.5" fill="#E26BBA" stroke="#000" stroke-width="0.6"/>
<circle cx="335.7" cy="294.2" r="2.5" fill="#E26BBA" stroke="#000" stroke-width="0.6"/>
<circle cx="343.4" cy="301.4" r="2.5" fill="#E26BBA" stroke="#000" stroke-width="0.6"/>
<circle cx="340.1" cy="305.6" r="2.5" fill="#E26BBA" stroke="#000" stroke-width="0.6"/>
<circle cx="355.2" cy="304.3" r="2.5" fill="#E26BBA" stroke="#000" stroke-width="0.6"/>
<circle cx="361.8" cy="300.7" r="2.5" fill="#E26BBA" stroke="#000" stroke-width="0.6"/>
<circle cx="358.5" cy="308.4" r="2.5" fill="#E26BBA" stroke="#000" stroke-width="0.6"/>
<circle cx="324.9" cy="311.8" r="2.5" fill="#E26BBA" stroke="#000" stroke-width="0.6"/>
<circle cx="331" cy="312.3" r="2.5" fill="#E26BBA" stroke="#000" stroke-width="0.6"/>
<circle cx="327.2" cy="315.6" r="2.5" fill="#F07470" stroke="#000" stroke-width="0.6"/>
<circle cx="332.5" cy="316.3" r="2.5" fill="#F07470" stroke="#000" stroke-width="0.6"/>
<circle cx="331.4" cy="319.4" r="2.5" fill="#F07470" stroke="#000" stroke-width="0.6"/>
<circle cx="334.8" cy="320.1" r="2.5" fill="#E26BBA" stroke="#000" stroke-width="0.6"/>
<circle cx="324.9" cy="321.6" r="2.5" fill="#E26BBA" stroke="#000" stroke-width="0.6"/>
<circle cx="329.9" cy="321.3" r="2.5" fill="#E26BBA" stroke="#000" stroke-width="0.6"/>
<circle cx="340" cy="312.6" r="2.5" fill="#3C9CDC" stroke="#000" stroke-width="0.6"/>
<circle cx="342.3" cy="313.4" r="2.5" fill="#3C9CDC" stroke="#000" stroke-width="0.6"/>
<circle cx="344.6" cy="314.8" r="2.5" fill="#3C9CDC" stroke="#000" stroke-width="0.6"/>
<circle cx="342.3" cy="317.1" r="2.5" fill="#E26BBA" stroke="#000" stroke-width="0.6"/>
<circle cx="348.1" cy="317.8" r="2.5" fill="#E26BBA" stroke="#000" stroke-width="0.6"/>
<circle cx="348.4" cy="320.9" r="2.5" fill="#E26BBA" stroke="#000" stroke-width="0.6"/>
<circle cx="340.8" cy="322.8" r="2.5" fill="#F07470" stroke="#000" stroke-width="0.6"/>
<circle cx="337" cy="325.9" r="2.5" fill="#E26BBA" stroke="#000" stroke-width="0.6"/>
<circle cx="356.7" cy="319.8" r="2.5" fill="#E26BBA" stroke="#000" stroke-width="0.6"/>
<circle cx="355.9" cy="325.4" r="2.5" fill="#E26BBA" stroke="#000" stroke-width="0.6"/>
<circle cx="321.9" cy="324.7" r="2.5" fill="#86B83E" stroke="#000" stroke-width="0.6"/>
<circle cx="325.7" cy="324.4" r="2.5" fill="#E26BBA" stroke="#000" stroke-width="0.6"/>
<circle cx="326.5" cy="328.4" r="2.5" fill="#E26BBA" stroke="#000" stroke-width="0.6"/>
<circle cx="324.9" cy="332.2" r="2.5" fill="#F07470" stroke="#000" stroke-width="0.6"/>
<circle cx="312.1" cy="334" r="2.5" fill="#E26BBA" stroke="#000" stroke-width="0.6"/>
<circle cx="321.2" cy="337.5" r="2.5" fill="#E26BBA" stroke="#000" stroke-width="0.6"/>
<circle cx="325.7" cy="336.7" r="2.5" fill="#F07470" stroke="#000" stroke-width="0.6"/>
<circle cx="330.2" cy="336.4" r="2.5" fill="#F07470" stroke="#000" stroke-width="0.6"/>
<circle cx="333" cy="339" r="2.5" fill="#F07470" stroke="#000" stroke-width="0.6"/>
<circle cx="339.6" cy="337.5" r="2.5" fill="#F07470" stroke="#000" stroke-width="0.6"/>
<circle cx="327.2" cy="341.3" r="2.5" fill="#F07470" stroke="#000" stroke-width="0.6"/>
<circle cx="321.2" cy="343.5" r="2.5" fill="#F07470" stroke="#000" stroke-width="0.6"/>
<circle cx="324.2" cy="344.6" r="2.5" fill="#E26BBA" stroke="#000" stroke-width="0.6"/>
<circle cx="329.5" cy="342.8" r="2.5" fill="#F07470" stroke="#000" stroke-width="0.6"/>
<circle cx="336.3" cy="341.3" r="2.5" fill="#E26BBA" stroke="#000" stroke-width="0.6"/>
<circle cx="341.6" cy="344.6" r="2.5" fill="#F07470" stroke="#000" stroke-width="0.6"/>
<circle cx="342" cy="347.3" r="2.5" fill="#F07470" stroke="#000" stroke-width="0.6"/>
<circle cx="340.8" cy="350.4" r="2.5" fill="#F07470" stroke="#000" stroke-width="0.6"/>
<circle cx="331.7" cy="345.5" r="2.5" fill="#3C9CDC" stroke="#000" stroke-width="0.6"/>
<circle cx="315.8" cy="355.6" r="2.5" fill="#E26BBA" stroke="#000" stroke-width="0.6"/>
<circle cx="296" cy="363" r="2.5" fill="#E26BBA" stroke="#000" stroke-width="0.6"/>
<circle cx="318.5" cy="359.3" r="2.5" fill="#F07470" stroke="#000" stroke-width="0.6"/>
<circle cx="315" cy="361.6" r="2.5" fill="#E26BBA" stroke="#000" stroke-width="0.6"/>
<circle cx="326.6" cy="363" r="2.5" fill="#2DAE62" stroke="#000" stroke-width="0.6"/>
<circle cx="331.3" cy="361.4" r="2.5" fill="#2DAE62" stroke="#000" stroke-width="0.6"/>
<circle cx="312.3" cy="366.3" r="2.5" fill="#22B5BE" stroke="#000" stroke-width="0.6"/>
<circle cx="318.5" cy="367.2" r="2.5" fill="#2DAE62" stroke="#000" stroke-width="0.6"/>
<circle cx="308.6" cy="369.8" r="2.5" fill="#F07470" stroke="#000" stroke-width="0.6"/>
<circle cx="310.9" cy="369.2" r="2.5" fill="#D49A2A" stroke="#000" stroke-width="0.6"/>
<circle cx="320.5" cy="369.2" r="2.5" fill="#2DAE62" stroke="#000" stroke-width="0.6"/>
<circle cx="314.4" cy="371.5" r="2.5" fill="#F07470" stroke="#000" stroke-width="0.6"/>
<circle cx="298.4" cy="374.4" r="2.5" fill="#F07470" stroke="#000" stroke-width="0.6"/>
<circle cx="296.4" cy="376.5" r="2.5" fill="#E26BBA" stroke="#000" stroke-width="0.6"/>
<circle cx="310" cy="377.3" r="2.5" fill="#E26BBA" stroke="#000" stroke-width="0.6"/>
<circle cx="299.9" cy="388.1" r="2.5" fill="#E26BBA" stroke="#000" stroke-width="0.6"/>
<line x1="338.8" y1="289.71" x2="318" y2="290" stroke="#111" stroke-width="0.6"/>
<line x1="334.7" y1="294.25" x2="318" y2="295" stroke="#111" stroke-width="0.6"/>
<line x1="339.1" y1="305.59" x2="322" y2="305.5" stroke="#111" stroke-width="0.6"/>
<line x1="342.45" y1="301.71" x2="320" y2="309" stroke="#111" stroke-width="0.6"/>
<line x1="354.2" y1="304.36" x2="325" y2="306" stroke="#111" stroke-width="0.6"/>
<line x1="357.5" y1="308.32" x2="330" y2="306" stroke="#111" stroke-width="0.6"/>
<line x1="324.57" y1="310.92" x2="323" y2="309" stroke="#111" stroke-width="0.6"/>
<line x1="362.8" y1="300.68" x2="368" y2="300.6" stroke="#111" stroke-width="0.6"/>
<line x1="343.36" y1="285.8" x2="342" y2="283" stroke="#111" stroke-width="0.6"/>
<text x="126" y="503.9" font-size="3.85" text-anchor="middle" font-weight="normal" fill="#000" stroke="#000" stroke-width="0.15">C.krusei</text>
<text x="145.9" y="529.3" font-size="3.85" text-anchor="middle" font-weight="normal" fill="#000" stroke="#000" stroke-width="0.15">Poly.I.C</text>
<text x="138.6" y="537.7" font-size="3.85" text-anchor="middle" font-weight="normal" fill="#000" stroke="#000" stroke-width="0.15">C.albicans.hyphae</text>
<text x="107.2" y="525.8" font-size="3.85" text-anchor="middle" font-weight="normal" fill="#000" stroke="#000" stroke-width="0.15">S.aureus</text>
<text x="114.5" y="531.5" font-size="3.85" text-anchor="middle" font-weight="normal" fill="#000" stroke="#000" stroke-width="0.15">E.coli</text>
<text x="125" y="522.7" font-size="3.85" text-anchor="middle" font-weight="normal" fill="#000" stroke="#000" stroke-width="0.15">C.gattii</text>
<text x="138.6" y="520.6" font-size="3.85" text-anchor="middle" font-weight="normal" fill="#000" stroke="#000" stroke-width="0.15">LPS.10ng</text>
<text x="99.9" y="535.2" font-size="3.85" text-anchor="middle" font-weight="normal" fill="#000" stroke="#000" stroke-width="0.15">C.gattii</text>
<text x="82" y="532.3" font-size="3.85" text-anchor="middle" font-weight="normal" fill="#000" stroke="#000" stroke-width="0.15">S.aureus</text>
<text x="94.6" y="546.7" font-size="3.85" text-anchor="middle" font-weight="normal" fill="#000" stroke="#000" stroke-width="0.15">E.coli</text>
<text x="111.4" y="553.6" font-size="3.85" text-anchor="middle" font-weight="normal" fill="#000" stroke="#000" stroke-width="0.15">S.aureus</text>
<text x="133.3" y="542.6" font-size="3.85" text-anchor="middle" font-weight="normal" fill="#000" stroke="#000" stroke-width="0.15">C.gattii</text>
<text x="147" y="550.3" font-size="3.85" text-anchor="middle" font-weight="normal" fill="#000" stroke="#000" stroke-width="0.15">Poly.I.C</text>
<text x="162.6" y="533.1" font-size="3.85" text-anchor="middle" font-weight="normal" fill="#000" stroke="#000" stroke-width="0.15">C.krusei</text>
<text x="161.6" y="550.9" font-size="3.85" text-anchor="middle" font-weight="normal" fill="#000" stroke="#000" stroke-width="0.15">C.krusei</text>
<text x="67.2" y="555.7" font-size="3.85" text-anchor="middle" font-weight="normal" fill="#000" stroke="#000" stroke-width="0.15">LPS.1ng</text>
<text x="89.2" y="556.8" font-size="3.85" text-anchor="middle" font-weight="normal" fill="#000" stroke="#000" stroke-width="0.15">Mycobacterium</text>
<text x="91.3" y="567.6" font-size="3.85" text-anchor="middle" font-weight="normal" fill="#000" stroke="#000" stroke-width="0.15">Borrelia.mix</text>
<text x="59.9" y="573.5" font-size="3.85" text-anchor="middle" font-weight="normal" fill="#000" stroke="#000" stroke-width="0.15">E.hantgi.lve</text>
<text x="56.7" y="579.3" font-size="3.85" text-anchor="middle" font-weight="normal" fill="#000" stroke="#000" stroke-width="0.15">E.hantgi.colice</text>
<text x="79.7" y="579.8" font-size="3.85" text-anchor="middle" font-weight="normal" fill="#000" stroke="#000" stroke-width="0.15">Mtb.mix</text>
<text x="117.4" y="574.5" font-size="3.85" text-anchor="middle" font-weight="normal" fill="#000" stroke="#000" stroke-width="0.15">M.tuberculosis</text>
<text x="108" y="584.4" font-size="3.85" text-anchor="middle" font-weight="normal" fill="#000" stroke="#000" stroke-width="0.15">LPS.100ng</text>
<text x="74.5" y="590.2" font-size="3.85" text-anchor="middle" font-weight="normal" fill="#000" stroke="#000" stroke-width="0.15">Influenza</text>
<text x="96.5" y="590.7" font-size="3.85" text-anchor="middle" font-weight="normal" fill="#000" stroke="#000" stroke-width="0.15">Borrelia.mix</text>
<text x="160.2" y="562.6" font-size="3.85" text-anchor="middle" font-weight="normal" fill="#000" stroke="#000" stroke-width="0.15">C.albicans.hyphae</text>
<text x="166.5" y="568.3" font-size="3.85" text-anchor="middle" font-weight="normal" fill="#000" stroke="#000" stroke-width="0.15">Pam3Cys</text>
<text x="142.4" y="573.1" font-size="3.85" text-anchor="middle" font-weight="normal" fill="#000" stroke="#000" stroke-width="0.15">C.albicans.yeast</text>
<text x="162.3" y="581.4" font-size="3.85" text-anchor="middle" font-weight="normal" fill="#000" stroke="#000" stroke-width="0.15">C.albicans.yeast</text>
<text x="159.2" y="589.2" font-size="3.85" text-anchor="middle" font-weight="normal" fill="#000" stroke="#000" stroke-width="0.15">C.albicans.yeast</text>
<text x="126.7" y="590.2" font-size="3.85" text-anchor="middle" font-weight="normal" fill="#000" stroke="#000" stroke-width="0.15">Pam3Cys</text>
<text x="135.1" y="585" font-size="3.85" text-anchor="middle" font-weight="normal" fill="#000" stroke="#000" stroke-width="0.15">LPS.100ng</text>
<circle cx="134.8" cy="508.8" r="2.5" fill="#F2E640" stroke="#000" stroke-width="0.6"/>
<circle cx="135.4" cy="527.2" r="2.5" fill="#F2E640" stroke="#000" stroke-width="0.6"/>
<circle cx="125.6" cy="535.6" r="2.5" fill="#F2E640" stroke="#000" stroke-width="0.6"/>
<circle cx="109.3" cy="537.1" r="2.5" fill="#4FB0E6" stroke="#000" stroke-width="0.6"/>
<circle cx="113" cy="539.8" r="2.5" fill="#4FB0E6" stroke="#000" stroke-width="0.6"/>
<circle cx="102.6" cy="541.9" r="2.5" fill="#E8479A" stroke="#000" stroke-width="0.6"/>
<circle cx="113" cy="546.9" r="2.5" fill="#E8479A" stroke="#000" stroke-width="0.6"/>
<circle cx="124.1" cy="547.3" r="2.5" fill="#E8479A" stroke="#000" stroke-width="0.6"/>
<circle cx="136" cy="550.5" r="2.5" fill="#E8479A" stroke="#000" stroke-width="0.6"/>
<circle cx="160.5" cy="542.7" r="2.5" fill="#4FB0E6" stroke="#000" stroke-width="0.6"/>
<circle cx="117.2" cy="552.8" r="2.5" fill="#F2E640" stroke="#000" stroke-width="0.6"/>
<circle cx="122.6" cy="554.4" r="2.5" fill="#4FB0E6" stroke="#000" stroke-width="0.6"/>
<circle cx="126.4" cy="552.8" r="2.5" fill="#F2E640" stroke="#000" stroke-width="0.6"/>
<circle cx="155.9" cy="555.2" r="2.5" fill="#E8479A" stroke="#000" stroke-width="0.6"/>
<circle cx="137" cy="557.8" r="2.5" fill="#4FB0E6" stroke="#000" stroke-width="0.6"/>
<circle cx="88.5" cy="560.7" r="2.5" fill="#F2E640" stroke="#000" stroke-width="0.6"/>
<circle cx="108.6" cy="559.2" r="2.5" fill="#F2E640" stroke="#000" stroke-width="0.6"/>
<circle cx="119" cy="562.2" r="2.5" fill="#4FB0E6" stroke="#000" stroke-width="0.6"/>
<circle cx="126.7" cy="559.2" r="2.5" fill="#F2E640" stroke="#000" stroke-width="0.6"/>
<circle cx="132.6" cy="559.2" r="2.5" fill="#F2E640" stroke="#000" stroke-width="0.6"/>
<circle cx="112.2" cy="566.3" r="2.5" fill="#4FB0E6" stroke="#000" stroke-width="0.6"/>
<circle cx="86.4" cy="572.6" r="2.5" fill="#4FB0E6" stroke="#000" stroke-width="0.6"/>
<circle cx="100.7" cy="572.2" r="2.5" fill="#F2E640" stroke="#000" stroke-width="0.6"/>
<circle cx="96.9" cy="575.3" r="2.5" fill="#4FB0E6" stroke="#000" stroke-width="0.6"/>
<circle cx="102.3" cy="578" r="2.5" fill="#F2E640" stroke="#000" stroke-width="0.6"/>
<circle cx="89.8" cy="583.1" r="2.5" fill="#E8479A" stroke="#000" stroke-width="0.6"/>
<circle cx="127.6" cy="576.8" r="2.5" fill="#E8479A" stroke="#000" stroke-width="0.6"/>
<circle cx="122.8" cy="582.9" r="2.5" fill="#E8479A" stroke="#000" stroke-width="0.6"/>
<circle cx="148.7" cy="563.8" r="2.5" fill="#4FB0E6" stroke="#000" stroke-width="0.6"/>
<circle cx="131.3" cy="566.3" r="2.5" fill="#E8479A" stroke="#000" stroke-width="0.6"/>
<circle cx="152.9" cy="569.7" r="2.5" fill="#4FB0E6" stroke="#000" stroke-width="0.6"/>
<circle cx="159.2" cy="574.3" r="2.5" fill="#F2E640" stroke="#000" stroke-width="0.6"/>
<circle cx="133" cy="576.4" r="2.5" fill="#4FB0E6" stroke="#000" stroke-width="0.6"/>
<line x1="85.4" y1="572.57" x2="71" y2="572.2" stroke="#111" stroke-width="0.6"/>
<line x1="95.9" y1="575.39" x2="68" y2="578" stroke="#111" stroke-width="0.6"/>
<line x1="99.78" y1="572.59" x2="86" y2="578.5" stroke="#111" stroke-width="0.6"/>
<line x1="87.69" y1="560.11" x2="82" y2="556" stroke="#111" stroke-width="0.6"/>
<line x1="111.2" y1="566.3" x2="104" y2="566.3" stroke="#111" stroke-width="0.6"/>
<line x1="125.72" y1="534.61" x2="127" y2="524" stroke="#111" stroke-width="0.6"/>
<line x1="136.38" y1="527.42" x2="139" y2="528" stroke="#111" stroke-width="0.6"/>
<line x1="122.28" y1="583.75" x2="120" y2="587.5" stroke="#111" stroke-width="0.6"/>
<line x1="128.49" y1="577.26" x2="148" y2="587.5" stroke="#111" stroke-width="0.6"/>
<line x1="133.97" y1="576.63" x2="148" y2="580" stroke="#111" stroke-width="0.6"/>
<line x1="137.98" y1="558.01" x2="152" y2="561" stroke="#111" stroke-width="0.6"/>
<line x1="153.78" y1="569.23" x2="158" y2="567" stroke="#111" stroke-width="0.6"/>
<line x1="160.67" y1="541.71" x2="162" y2="534" stroke="#111" stroke-width="0.6"/>
<line x1="156.6" y1="554.48" x2="160" y2="551" stroke="#111" stroke-width="0.6"/>
<line x1="108.91" y1="536.18" x2="105" y2="527" stroke="#111" stroke-width="0.6"/>
<line x1="112.05" y1="539.49" x2="100" y2="535.5" stroke="#111" stroke-width="0.6"/>
<line x1="101.76" y1="541.36" x2="88" y2="532.5" stroke="#111" stroke-width="0.6"/>
<line x1="112.01" y1="546.79" x2="99" y2="545.4" stroke="#111" stroke-width="0.6"/>
<line x1="131.89" y1="567.11" x2="134" y2="570" stroke="#111" stroke-width="0.6"/>
<line x1="124.09" y1="546.3" x2="124" y2="531" stroke="#111" stroke-width="0.6"/>
<line x1="121.61" y1="554.28" x2="111" y2="553" stroke="#111" stroke-width="0.6"/>
<text x="325.1" y="539.1" font-size="3.85" text-anchor="middle" font-weight="normal" fill="#000" stroke="#000" stroke-width="0.15">C.gattii</text>
<text x="350.2" y="542.1" font-size="3.85" text-anchor="middle" font-weight="normal" fill="#000" stroke="#000" stroke-width="0.15">C.albicans.hyphae</text>
<text x="370.7" y="544" font-size="3.85" text-anchor="middle" font-weight="normal" fill="#000" stroke="#000" stroke-width="0.15">Borrelia.mix</text>
<text x="310.2" y="547.1" font-size="3.85" text-anchor="middle" font-weight="normal" fill="#000" stroke="#000" stroke-width="0.15">C.gattii</text>
<text x="326" y="553.6" font-size="3.85" text-anchor="middle" font-weight="normal" fill="#000" stroke="#000" stroke-width="0.15">C.gattii</text>
<text x="347.4" y="555.5" font-size="3.85" text-anchor="middle" font-weight="normal" fill="#000" stroke="#000" stroke-width="0.15">C.albicans.yeast</text>
<text x="359.5" y="561.4" font-size="3.85" text-anchor="middle" font-weight="normal" fill="#000" stroke="#000" stroke-width="0.15">E.hantgi.colice</text>
<text x="301.9" y="554" font-size="3.85" text-anchor="middle" font-weight="normal" fill="#000" stroke="#000" stroke-width="0.15">Mycobacterium</text>
<text x="277.7" y="563.9" font-size="3.85" text-anchor="middle" font-weight="normal" fill="#000" stroke="#000" stroke-width="0.15">Borrelia.mix</text>
<text x="301.9" y="561.4" font-size="3.85" text-anchor="middle" font-weight="normal" fill="#000" stroke="#000" stroke-width="0.15">C.albicans.yeast</text>
<text x="300" y="570.4" font-size="3.85" text-anchor="middle" font-weight="normal" fill="#000" stroke="#000" stroke-width="0.15">C.albicans.yeast</text>
<text x="304.7" y="576" font-size="3.85" text-anchor="middle" font-weight="normal" fill="#000" stroke="#000" stroke-width="0.15">S.aureus</text>
<text x="361.4" y="570.7" font-size="3.85" text-anchor="middle" font-weight="normal" fill="#000" stroke="#000" stroke-width="0.15">C.albicans.hyphae</text>
<text x="371.6" y="577.8" font-size="3.85" text-anchor="middle" font-weight="normal" fill="#000" stroke="#000" stroke-width="0.15">M.tuberculosis</text>
<text x="321.4" y="581.5" font-size="3.85" text-anchor="middle" font-weight="normal" fill="#000" stroke="#000" stroke-width="0.15">M.tuberculosis</text>
<text x="357.7" y="583.4" font-size="3.85" text-anchor="middle" font-weight="normal" fill="#000" stroke="#000" stroke-width="0.15">C.albicans.hyphae</text>
<text x="328.8" y="588" font-size="3.85" text-anchor="middle" font-weight="normal" fill="#000" stroke="#000" stroke-width="0.15">S.aureus</text>
<text x="327" y="600.1" font-size="3.85" text-anchor="middle" font-weight="normal" fill="#000" stroke="#000" stroke-width="0.15">Klebsiella.lve</text>
<circle cx="323.8" cy="545.8" r="2.5" fill="#4A7DC9" stroke="#000" stroke-width="0.6"/>
<circle cx="333.5" cy="547.1" r="2.5" fill="#EA5A78" stroke="#000" stroke-width="0.6"/>
<circle cx="338.1" cy="544.5" r="2.5" fill="#4A7DC9" stroke="#000" stroke-width="0.6"/>
<circle cx="322.3" cy="556" r="2.5" fill="#F0973A" stroke="#000" stroke-width="0.6"/>
<circle cx="332.6" cy="557.9" r="2.5" fill="#F0973A" stroke="#000" stroke-width="0.6"/>
<circle cx="319.5" cy="563.9" r="2.5" fill="#EA5A78" stroke="#000" stroke-width="0.6"/>
<circle cx="330.7" cy="563.9" r="2.5" fill="#EA5A78" stroke="#000" stroke-width="0.6"/>
<circle cx="338.1" cy="564.4" r="2.5" fill="#F0973A" stroke="#000" stroke-width="0.6"/>
<circle cx="335.3" cy="568.7" r="2.5" fill="#4A7DC9" stroke="#000" stroke-width="0.6"/>
<circle cx="348.4" cy="564.4" r="2.5" fill="#4A7DC9" stroke="#000" stroke-width="0.6"/>
<circle cx="352.1" cy="564.4" r="2.5" fill="#F0973A" stroke="#000" stroke-width="0.6"/>
<circle cx="314" cy="572.8" r="2.5" fill="#4A7DC9" stroke="#000" stroke-width="0.6"/>
<circle cx="319.9" cy="571.3" r="2.5" fill="#4A7DC9" stroke="#000" stroke-width="0.6"/>
<circle cx="331.3" cy="575.6" r="2.5" fill="#EA5A78" stroke="#000" stroke-width="0.6"/>
<circle cx="348.7" cy="574.7" r="2.5" fill="#4A7DC9" stroke="#000" stroke-width="0.6"/>
<circle cx="340" cy="577.4" r="2.5" fill="#EA5A78" stroke="#000" stroke-width="0.6"/>
<circle cx="339.1" cy="579.9" r="2.5" fill="#EA5A78" stroke="#000" stroke-width="0.6"/>
<circle cx="324.2" cy="593.3" r="2.5" fill="#EA5A78" stroke="#000" stroke-width="0.6"/>
<line x1="333.17" y1="546.16" x2="331" y2="540" stroke="#111" stroke-width="0.6"/>
<line x1="338.97" y1="563.9" x2="372" y2="545" stroke="#111" stroke-width="0.6"/>
<line x1="336.08" y1="568.08" x2="350" y2="557" stroke="#111" stroke-width="0.6"/>
<line x1="318.5" y1="563.85" x2="292" y2="562.6" stroke="#111" stroke-width="0.6"/>
<line x1="329.76" y1="563.56" x2="316" y2="558.5" stroke="#111" stroke-width="0.6"/>
<line x1="321.4" y1="555.57" x2="316" y2="553" stroke="#111" stroke-width="0.6"/>
<line x1="349.69" y1="574.84" x2="361" y2="576.5" stroke="#111" stroke-width="0.6"/>
<line x1="340.81" y1="577.98" x2="345" y2="581" stroke="#111" stroke-width="0.6"/>
<line x1="330.94" y1="576.53" x2="330" y2="579" stroke="#111" stroke-width="0.6"/>
<line x1="322.8" y1="545.8" x2="319" y2="545.8" stroke="#111" stroke-width="0.6"/>
<line x1="313.05" y1="573.12" x2="309" y2="574.5" stroke="#111" stroke-width="0.6"/>
<text x="93.5" y="700.6" font-size="3.4" text-anchor="middle" font-weight="normal" fill="#222" stroke="#222" stroke-width="0.05" font-style="italic">IgD+ IgM+</text>
<text x="98" y="710.9" font-size="3.4" text-anchor="middle" font-weight="normal" fill="#222" stroke="#222" stroke-width="0.05" font-style="italic">CD4+ TH CD45RO+ CD27+</text>
<text x="140.3" y="712.1" font-size="3.4" text-anchor="middle" font-weight="normal" fill="#222" stroke="#222" stroke-width="0.05" font-style="italic">CD4+ TH CD45RO+ CD27-</text>
<text x="73" y="720.3" font-size="3.4" text-anchor="middle" font-weight="normal" fill="#222" stroke="#222" stroke-width="0.05" font-style="italic">Nonclassical monocytes CD14+ CD16+</text>
<text x="142.2" y="720.9" font-size="3.4" text-anchor="middle" font-weight="normal" fill="#222" stroke="#222" stroke-width="0.05" font-style="italic">CD8+ EHC CD45RO+ CD27-</text>
<text x="74.5" y="729.1" font-size="3.4" text-anchor="middle" font-weight="normal" fill="#222" stroke="#222" stroke-width="0.05" font-style="italic">Transitional B cells CD24+ CD38+</text>
<text x="118.6" y="732" font-size="3.4" text-anchor="middle" font-weight="normal" fill="#222" stroke="#222" stroke-width="0.05" font-style="italic">CD4+ T naive</text>
<text x="89.4" y="737.2" font-size="3.4" text-anchor="middle" font-weight="normal" fill="#222" stroke="#222" stroke-width="0.05" font-style="italic">Treg CD4+ CD25+ CD127-</text>
<text x="90.8" y="748" font-size="3.4" text-anchor="middle" font-weight="normal" fill="#222" stroke="#222" stroke-width="0.05" font-style="italic">NK CD56+ CD16+</text>
<text x="142.5" y="744.7" font-size="3.4" text-anchor="middle" font-weight="normal" fill="#222" stroke="#222" stroke-width="0.05" font-style="italic">CD8+ EHC CD45RO- CD27-</text>
<text x="135.7" y="783.6" font-size="3.4" text-anchor="middle" font-weight="normal" fill="#222" stroke="#222" stroke-width="0.05" font-style="italic">Natural killer CD56+ CD16+ IgD-</text>
<text x="63.3" y="795.1" font-size="3.4" text-anchor="middle" font-weight="normal" fill="#222" stroke="#222" stroke-width="0.05" font-style="italic">Memory B cells IgG+ IgM+ CD27+</text>
<text x="91.8" y="798.4" font-size="3.4" text-anchor="middle" font-weight="normal" fill="#222" stroke="#222" stroke-width="0.05" font-style="italic">IgG+ CD27+</text>
<text x="73.9" y="804.9" font-size="3.4" text-anchor="middle" font-weight="normal" fill="#222" stroke="#222" stroke-width="0.05" font-style="italic">Lymphocytes</text>
<text x="47.8" y="808.7" font-size="3.4" text-anchor="middle" font-weight="normal" fill="#222" stroke="#222" stroke-width="0.05" font-style="italic">CD45RO+ CD38+ T cells</text>
<text x="47.8" y="813.5" font-size="3.4" text-anchor="middle" font-weight="normal" fill="#222" stroke="#222" stroke-width="0.05" font-style="italic">CD45RO- CD38+ T cells</text>
<text x="39.7" y="819.1" font-size="3.4" text-anchor="middle" font-weight="normal" fill="#222" stroke="#222" stroke-width="0.05" font-style="italic">Neutrophils</text>
<text x="36.4" y="821.2" font-size="3.4" text-anchor="middle" font-weight="normal" fill="#222" stroke="#222" stroke-width="0.05" font-style="italic">CD56+ CD16+</text>
<text x="56" y="823.3" font-size="3.4" text-anchor="middle" font-weight="normal" fill="#222" stroke="#222" stroke-width="0.05" font-style="italic">IgD- CD27-</text>
<text x="83.6" y="822.8" font-size="3.4" text-anchor="middle" font-weight="normal" fill="#222" stroke="#222" stroke-width="0.05" font-style="italic">CD16+ CD56-</text>
<text x="126" y="799.9" font-size="3.4" text-anchor="middle" font-weight="normal" fill="#222" stroke="#222" stroke-width="0.05" font-style="italic">IgD- CD27+</text>
<text x="143.9" y="804" font-size="3.4" text-anchor="middle" font-weight="normal" fill="#222" stroke="#222" stroke-width="0.05" font-style="italic">Class switched memory IgG+ IgM- CD27+</text>
<text x="148.7" y="811.3" font-size="3.4" text-anchor="middle" font-weight="normal" fill="#222" stroke="#222" stroke-width="0.05" font-style="italic">B cells Naive CD45RO+ CD27+</text>
<text x="137.3" y="819" font-size="3.4" text-anchor="middle" font-weight="normal" fill="#222" stroke="#222" stroke-width="0.05" font-style="italic">CD24+ CD38+ CD27- IgM+</text>
<text x="143.9" y="822.7" font-size="3.4" text-anchor="middle" font-weight="normal" fill="#222" stroke="#222" stroke-width="0.05" font-style="italic">IgD+ CD27+ Naive CD45RO+</text>
<circle cx="99.3" cy="703.9" r="2.5" fill="#F07472" stroke="#000" stroke-width="0.6"/>
<circle cx="111.9" cy="719" r="2.5" fill="#E26DC2" stroke="#000" stroke-width="0.6"/>
<circle cx="118.6" cy="714.8" r="2.5" fill="#E26DC2" stroke="#000" stroke-width="0.6"/>
<circle cx="129.5" cy="723.8" r="2.5" fill="#E26DC2" stroke="#000" stroke-width="0.6"/>
<circle cx="94.5" cy="722.8" r="2.5" fill="#55B045" stroke="#000" stroke-width="0.6"/>
<circle cx="102.9" cy="726.5" r="2.5" fill="#F07472" stroke="#000" stroke-width="0.6"/>
<circle cx="105" cy="731.1" r="2.5" fill="#E26DC2" stroke="#000" stroke-width="0.6"/>
<circle cx="108.1" cy="733.2" r="2.5" fill="#E26DC2" stroke="#000" stroke-width="0.6"/>
<circle cx="112.3" cy="738.5" r="2.5" fill="#14B0E4" stroke="#000" stroke-width="0.6"/>
<circle cx="126.4" cy="738.8" r="2.5" fill="#E26DC2" stroke="#000" stroke-width="0.6"/>
<circle cx="75.5" cy="741.5" r="2.5" fill="#F07472" stroke="#000" stroke-width="0.6"/>
<circle cx="86" cy="740" r="2.5" fill="#F07472" stroke="#000" stroke-width="0.6"/>
<circle cx="97.1" cy="741.5" r="2.5" fill="#E26DC2" stroke="#000" stroke-width="0.6"/>
<circle cx="114.9" cy="746.7" r="2.5" fill="#14B0E4" stroke="#000" stroke-width="0.6"/>
<circle cx="108.2" cy="749.2" r="2.5" fill="#E26DC2" stroke="#000" stroke-width="0.6"/>
<circle cx="104.8" cy="753" r="2.5" fill="#E26DC2" stroke="#000" stroke-width="0.6"/>
<circle cx="126.4" cy="749.9" r="2.5" fill="#E26DC2" stroke="#000" stroke-width="0.6"/>
<circle cx="83.9" cy="757.2" r="2.5" fill="#E26DC2" stroke="#000" stroke-width="0.6"/>
<circle cx="88.7" cy="756.8" r="2.5" fill="#F07472" stroke="#000" stroke-width="0.6"/>
<circle cx="93.5" cy="761.8" r="2.5" fill="#55B045" stroke="#000" stroke-width="0.6"/>
<circle cx="122.2" cy="758.9" r="2.5" fill="#E26DC2" stroke="#000" stroke-width="0.6"/>
<circle cx="111.1" cy="762.4" r="2.5" fill="#14B0E4" stroke="#000" stroke-width="0.6"/>
<circle cx="112.3" cy="766.6" r="2.5" fill="#14B0E4" stroke="#000" stroke-width="0.6"/>
<circle cx="88.7" cy="765.6" r="2.5" fill="#F07472" stroke="#000" stroke-width="0.6"/>
<circle cx="98.1" cy="768.7" r="2.5" fill="#55B045" stroke="#000" stroke-width="0.6"/>
<circle cx="72" cy="770.8" r="2.5" fill="#E26DC2" stroke="#000" stroke-width="0.6"/>
<circle cx="105.4" cy="772.9" r="2.5" fill="#F07472" stroke="#000" stroke-width="0.6"/>
<circle cx="102.7" cy="775.3" r="2.5" fill="#E26DC2" stroke="#000" stroke-width="0.6"/>
<circle cx="100" cy="781.3" r="2.5" fill="#F07472" stroke="#000" stroke-width="0.6"/>
<circle cx="107" cy="781.3" r="2.5" fill="#F07472" stroke="#000" stroke-width="0.6"/>
<circle cx="99" cy="788.7" r="2.5" fill="#E26DC2" stroke="#000" stroke-width="0.6"/>
<circle cx="103.5" cy="788.3" r="2.5" fill="#F07472" stroke="#000" stroke-width="0.6"/>
<circle cx="104.9" cy="790.6" r="2.5" fill="#F07472" stroke="#000" stroke-width="0.6"/>
<circle cx="97.6" cy="793.1" r="2.5" fill="#55B045" stroke="#000" stroke-width="0.6"/>
<circle cx="115.3" cy="793.8" r="2.5" fill="#F07472" stroke="#000" stroke-width="0.6"/>
<circle cx="128.6" cy="794.5" r="2.5" fill="#9F8DD2" stroke="#000" stroke-width="0.6"/>
<circle cx="134.8" cy="787.8" r="2.5" fill="#E26DC2" stroke="#000" stroke-width="0.6"/>
<circle cx="100.5" cy="802.3" r="2.5" fill="#E26DC2" stroke="#000" stroke-width="0.6"/>
<circle cx="108.8" cy="799.4" r="2.5" fill="#F07472" stroke="#000" stroke-width="0.6"/>
<circle cx="111.3" cy="799.6" r="2.5" fill="#E26DC2" stroke="#000" stroke-width="0.6"/>
<circle cx="116.2" cy="805.1" r="2.5" fill="#E26DC2" stroke="#000" stroke-width="0.6"/>
<circle cx="114.5" cy="808.2" r="2.5" fill="#E26DC2" stroke="#000" stroke-width="0.6"/>
<circle cx="73.5" cy="808.2" r="2.5" fill="#E26DC2" stroke="#000" stroke-width="0.6"/>
<circle cx="94.8" cy="812" r="2.5" fill="#C29A2E" stroke="#000" stroke-width="0.6"/>
<circle cx="108" cy="812" r="2.5" fill="#F07472" stroke="#000" stroke-width="0.6"/>
<circle cx="119.4" cy="813.4" r="2.5" fill="#F07472" stroke="#000" stroke-width="0.6"/>
<circle cx="89.5" cy="816.2" r="2.5" fill="#E26DC2" stroke="#000" stroke-width="0.6"/>
<circle cx="94" cy="816.2" r="2.5" fill="#22B990" stroke="#000" stroke-width="0.6"/>
<circle cx="99.3" cy="816.2" r="2.5" fill="#F07472" stroke="#000" stroke-width="0.6"/>
<circle cx="102.6" cy="816.9" r="2.5" fill="#F07472" stroke="#000" stroke-width="0.6"/>
<circle cx="107.5" cy="816.2" r="2.5" fill="#F07472" stroke="#000" stroke-width="0.6"/>
<circle cx="103.8" cy="817.2" r="2.5" fill="#E26DC2" stroke="#000" stroke-width="0.6"/>
<circle cx="112" cy="816.9" r="2.5" fill="#F07472" stroke="#000" stroke-width="0.6"/>
<circle cx="115.3" cy="816.9" r="2.5" fill="#F07472" stroke="#000" stroke-width="0.6"/>
<circle cx="120" cy="815.5" r="2.5" fill="#F07472" stroke="#000" stroke-width="0.6"/>
<line x1="111.36" y1="718.16" x2="108" y2="713" stroke="#111" stroke-width="0.6"/>
<line x1="101.9" y1="726.57" x2="96" y2="727" stroke="#111" stroke-width="0.6"/>
<line x1="96.35" y1="742.16" x2="92" y2="746" stroke="#111" stroke-width="0.6"/>
<line x1="111.61" y1="739.22" x2="108" y2="743" stroke="#111" stroke-width="0.6"/>
<line x1="104.13" y1="731.59" x2="98" y2="735" stroke="#111" stroke-width="0.6"/>
<line x1="94.05" y1="811.34" x2="75" y2="794.5" stroke="#111" stroke-width="0.6"/>
<line x1="93.61" y1="815.28" x2="86" y2="797.5" stroke="#111" stroke-width="0.6"/>
<line x1="88.81" y1="815.47" x2="78" y2="804" stroke="#111" stroke-width="0.6"/>
<line x1="88.57" y1="815.82" x2="68" y2="807.5" stroke="#111" stroke-width="0.6"/>
<line x1="93.01" y1="816.05" x2="68" y2="812.2" stroke="#111" stroke-width="0.6"/>
<line x1="98.3" y1="816.24" x2="50" y2="818" stroke="#111" stroke-width="0.6"/>
<line x1="101.61" y1="817.03" x2="65" y2="822" stroke="#111" stroke-width="0.6"/>
<line x1="106.52" y1="816.42" x2="84" y2="821.5" stroke="#111" stroke-width="0.6"/>
<line x1="105.77" y1="790.11" x2="120" y2="782" stroke="#111" stroke-width="0.6"/>
<line x1="108.79" y1="811.39" x2="125" y2="799" stroke="#111" stroke-width="0.6"/>
<line x1="116.3" y1="804.91" x2="140" y2="802.7" stroke="#111" stroke-width="0.6"/>
<line x1="120.38" y1="813.2" x2="146" y2="808" stroke="#111" stroke-width="0.6"/>
<line x1="116.3" y1="816.98" x2="125" y2="817.7" stroke="#111" stroke-width="0.6"/>
<line x1="120.88" y1="815.98" x2="130" y2="821" stroke="#111" stroke-width="0.6"/>
<line x1="101.08" y1="801.49" x2="105" y2="796" stroke="#111" stroke-width="0.6"/>
<text x="398.8" y="84.7" font-size="5.6" text-anchor="start" font-weight="normal" fill="#1a1a1a" stroke="#222" stroke-width="0.08">cytokine</text>
<circle cx="404" cy="92.8" r="2.6" fill="#4FB0E6" stroke="#000" stroke-width="0.6"/>
<text x="411.9" y="94.8" font-size="5.6" text-anchor="start" font-weight="normal" fill="#1a1a1a" stroke="#222" stroke-width="0.08">IL-1β</text>
<circle cx="404" cy="103" r="2.6" fill="#F2E640" stroke="#000" stroke-width="0.6"/>
<text x="411.9" y="105" font-size="5.6" text-anchor="start" font-weight="normal" fill="#1a1a1a" stroke="#222" stroke-width="0.08">IL-6</text>
<circle cx="404" cy="113.2" r="2.6" fill="#E8479A" stroke="#000" stroke-width="0.6"/>
<text x="411.9" y="115.2" font-size="5.6" text-anchor="start" font-weight="normal" fill="#1a1a1a" stroke="#222" stroke-width="0.08">TNF-α</text>
<text x="182" y="302.7" font-size="5.6" text-anchor="start" font-weight="normal" fill="#1a1a1a" stroke="#222" stroke-width="0.08">cytokine</text>
<circle cx="187.1" cy="311" r="2.6" fill="#4A7DC9" stroke="#000" stroke-width="0.6"/>
<text x="195" y="313" font-size="5.6" text-anchor="start" font-weight="normal" fill="#1a1a1a" stroke="#222" stroke-width="0.08">IFNγ</text>
<circle cx="187.1" cy="321.2" r="2.6" fill="#F0973A" stroke="#000" stroke-width="0.6"/>
<text x="195" y="323.2" font-size="5.6" text-anchor="start" font-weight="normal" fill="#1a1a1a" stroke="#222" stroke-width="0.08">IL-17</text>
<circle cx="187.1" cy="331.3" r="2.6" fill="#EA5A78" stroke="#000" stroke-width="0.6"/>
<text x="195" y="333.3" font-size="5.6" text-anchor="start" font-weight="normal" fill="#1a1a1a" stroke="#222" stroke-width="0.08">IL-22</text>
<text x="380" y="276.7" font-size="5.6" text-anchor="start" font-weight="normal" fill="#1a1a1a" stroke="#222" stroke-width="0.08">cell type</text>
<circle cx="385.1" cy="285.6" r="2.6" fill="#F07470" stroke="#000" stroke-width="0.6"/>
<text x="393" y="287.6" font-size="5.6" text-anchor="start" font-weight="normal" fill="#1a1a1a" stroke="#222" stroke-width="0.08">B cells</text>
<circle cx="385.1" cy="295.7" r="2.6" fill="#D49A2A" stroke="#000" stroke-width="0.6"/>
<text x="393" y="297.7" font-size="5.6" text-anchor="start" font-weight="normal" fill="#1a1a1a" stroke="#222" stroke-width="0.08">Leukocytes</text>
<circle cx="385.1" cy="305.9" r="2.6" fill="#86B83E" stroke="#000" stroke-width="0.6"/>
<text x="393" y="307.9" font-size="5.6" text-anchor="start" font-weight="normal" fill="#1a1a1a" stroke="#222" stroke-width="0.08">Lymphocytes</text>
<circle cx="385.1" cy="315.9" r="2.6" fill="#2DAE62" stroke="#000" stroke-width="0.6"/>
<text x="393" y="317.9" font-size="5.6" text-anchor="start" font-weight="normal" fill="#1a1a1a" stroke="#222" stroke-width="0.08">Monocytes</text>
<circle cx="385.1" cy="326.1" r="2.6" fill="#22B5BE" stroke="#000" stroke-width="0.6"/>
<text x="393" y="328.1" font-size="5.6" text-anchor="start" font-weight="normal" fill="#1a1a1a" stroke="#222" stroke-width="0.08">Neutrophils</text>
<circle cx="385.1" cy="336.4" r="2.6" fill="#3C9CDC" stroke="#000" stroke-width="0.6"/>
<text x="393" y="338.4" font-size="5.6" text-anchor="start" font-weight="normal" fill="#1a1a1a" stroke="#222" stroke-width="0.08">NK cells</text>
<circle cx="385.1" cy="346.6" r="2.6" fill="#A57ECB" stroke="#000" stroke-width="0.6"/>
<text x="393" y="348.6" font-size="5.6" text-anchor="start" font-weight="normal" fill="#1a1a1a" stroke="#222" stroke-width="0.08">CD3+ CD56+</text>
<circle cx="385.1" cy="356.8" r="2.6" fill="#E26BBA" stroke="#000" stroke-width="0.6"/>
<text x="393" y="358.8" font-size="5.6" text-anchor="start" font-weight="normal" fill="#1a1a1a" stroke="#222" stroke-width="0.08">T cells</text>
<text x="186" y="515.5" font-size="5.6" text-anchor="start" font-weight="normal" fill="#1a1a1a" stroke="#222" stroke-width="0.08">cytokine</text>
<circle cx="188.5" cy="522.6" r="2.6" fill="#4FB0E6" stroke="#000" stroke-width="0.6"/>
<text x="193.6" y="524.6" font-size="5.6" text-anchor="start" font-weight="normal" fill="#1a1a1a" stroke="#222" stroke-width="0.08">IL-1β</text>
<circle cx="188.5" cy="532.7" r="2.6" fill="#F2E640" stroke="#000" stroke-width="0.6"/>
<text x="193.6" y="534.7" font-size="5.6" text-anchor="start" font-weight="normal" fill="#1a1a1a" stroke="#222" stroke-width="0.08">IL-6</text>
<circle cx="188.5" cy="542.9" r="2.6" fill="#E8479A" stroke="#000" stroke-width="0.6"/>
<text x="193.6" y="544.9" font-size="5.6" text-anchor="start" font-weight="normal" fill="#1a1a1a" stroke="#222" stroke-width="0.08">TNF-α</text>
<line x1="187.4" y1="551.9" x2="187.4" y2="563.3" stroke="#3B4CA8" stroke-width="0.95" stroke-dasharray="2,1"/>
<line x1="190" y1="551.9" x2="190" y2="563.3" stroke="#EE2B2B" stroke-width="0.95" stroke-dasharray="2,1"/>
<text x="194" y="560.3" font-size="5.6" text-anchor="start" font-weight="normal" fill="#1a1a1a" stroke="#222" stroke-width="0.08">means</text>
<text x="405.7" y="515" font-size="5.6" text-anchor="start" font-weight="normal" fill="#1a1a1a" stroke="#222" stroke-width="0.08">cytokine</text>
<circle cx="408.6" cy="522.1" r="2.6" fill="#4A7DC9" stroke="#000" stroke-width="0.6"/>
<text x="413.8" y="524.1" font-size="5.6" text-anchor="start" font-weight="normal" fill="#1a1a1a" stroke="#222" stroke-width="0.08">IFNγ</text>
<circle cx="408.6" cy="532.4" r="2.6" fill="#F0973A" stroke="#000" stroke-width="0.6"/>
<text x="413.8" y="534.4" font-size="5.6" text-anchor="start" font-weight="normal" fill="#1a1a1a" stroke="#222" stroke-width="0.08">IL-17</text>
<circle cx="408.6" cy="542.7" r="2.6" fill="#EA5A78" stroke="#000" stroke-width="0.6"/>
<text x="413.8" y="544.7" font-size="5.6" text-anchor="start" font-weight="normal" fill="#1a1a1a" stroke="#222" stroke-width="0.08">IL-22</text>
<line x1="406.4" y1="549" x2="406.4" y2="560.5" stroke="#3B4CA8" stroke-width="0.95" stroke-dasharray="2,1"/>
<line x1="409.5" y1="549" x2="409.5" y2="560.5" stroke="#EE2B2B" stroke-width="0.95" stroke-dasharray="2,1"/>
<text x="412.9" y="557.2" font-size="5.6" text-anchor="start" font-weight="normal" fill="#1a1a1a" stroke="#222" stroke-width="0.08">means</text>
<text x="180" y="678.3" font-size="5.6" text-anchor="start" font-weight="normal" fill="#1a1a1a" stroke="#222" stroke-width="0.08">cell type</text>
<circle cx="181" cy="687.9" r="2.6" fill="#F07472" stroke="#000" stroke-width="0.6"/>
<text x="188.6" y="689.9" font-size="5.6" text-anchor="start" font-weight="normal" fill="#1a1a1a" stroke="#222" stroke-width="0.08">B cells</text>
<circle cx="181" cy="697.9" r="2.6" fill="#C29A2E" stroke="#000" stroke-width="0.6"/>
<text x="188.6" y="699.9" font-size="5.6" text-anchor="start" font-weight="normal" fill="#1a1a1a" stroke="#222" stroke-width="0.08">Lymphocytes</text>
<circle cx="181" cy="707.9" r="2.6" fill="#55B045" stroke="#000" stroke-width="0.6"/>
<text x="188.6" y="709.9" font-size="5.6" text-anchor="start" font-weight="normal" fill="#1a1a1a" stroke="#222" stroke-width="0.08">Monocytes</text>
<circle cx="181" cy="717.9" r="2.6" fill="#22B990" stroke="#000" stroke-width="0.6"/>
<text x="188.6" y="719.9" font-size="5.6" text-anchor="start" font-weight="normal" fill="#1a1a1a" stroke="#222" stroke-width="0.08">Neutrophils</text>
<circle cx="181" cy="727.9" r="2.6" fill="#14B0E4" stroke="#000" stroke-width="0.6"/>
<text x="188.6" y="729.9" font-size="5.6" text-anchor="start" font-weight="normal" fill="#1a1a1a" stroke="#222" stroke-width="0.08">NK cells</text>
<circle cx="181" cy="737.9" r="2.6" fill="#9F8DD2" stroke="#000" stroke-width="0.6"/>
<text x="188.6" y="739.9" font-size="5.6" text-anchor="start" font-weight="normal" fill="#1a1a1a" stroke="#222" stroke-width="0.08">CD3+ CD56+</text>
<circle cx="181" cy="748.3" r="2.6" fill="#E26DC2" stroke="#000" stroke-width="0.6"/>
<text x="188.6" y="750.3" font-size="5.6" text-anchor="start" font-weight="normal" fill="#1a1a1a" stroke="#222" stroke-width="0.08">T cells</text>
<line x1="179.7" y1="755.7" x2="179.7" y2="765.7" stroke="#3B4CA8" stroke-width="0.95" stroke-dasharray="2,1"/>
<line x1="182.9" y1="755.7" x2="182.9" y2="765.7" stroke="#EE2B2B" stroke-width="0.95" stroke-dasharray="2,1"/>
<text x="187.1" y="763.1" font-size="5.6" text-anchor="start" font-weight="normal" fill="#1a1a1a" stroke="#222" stroke-width="0.08">means</text>
</svg></body></html>
